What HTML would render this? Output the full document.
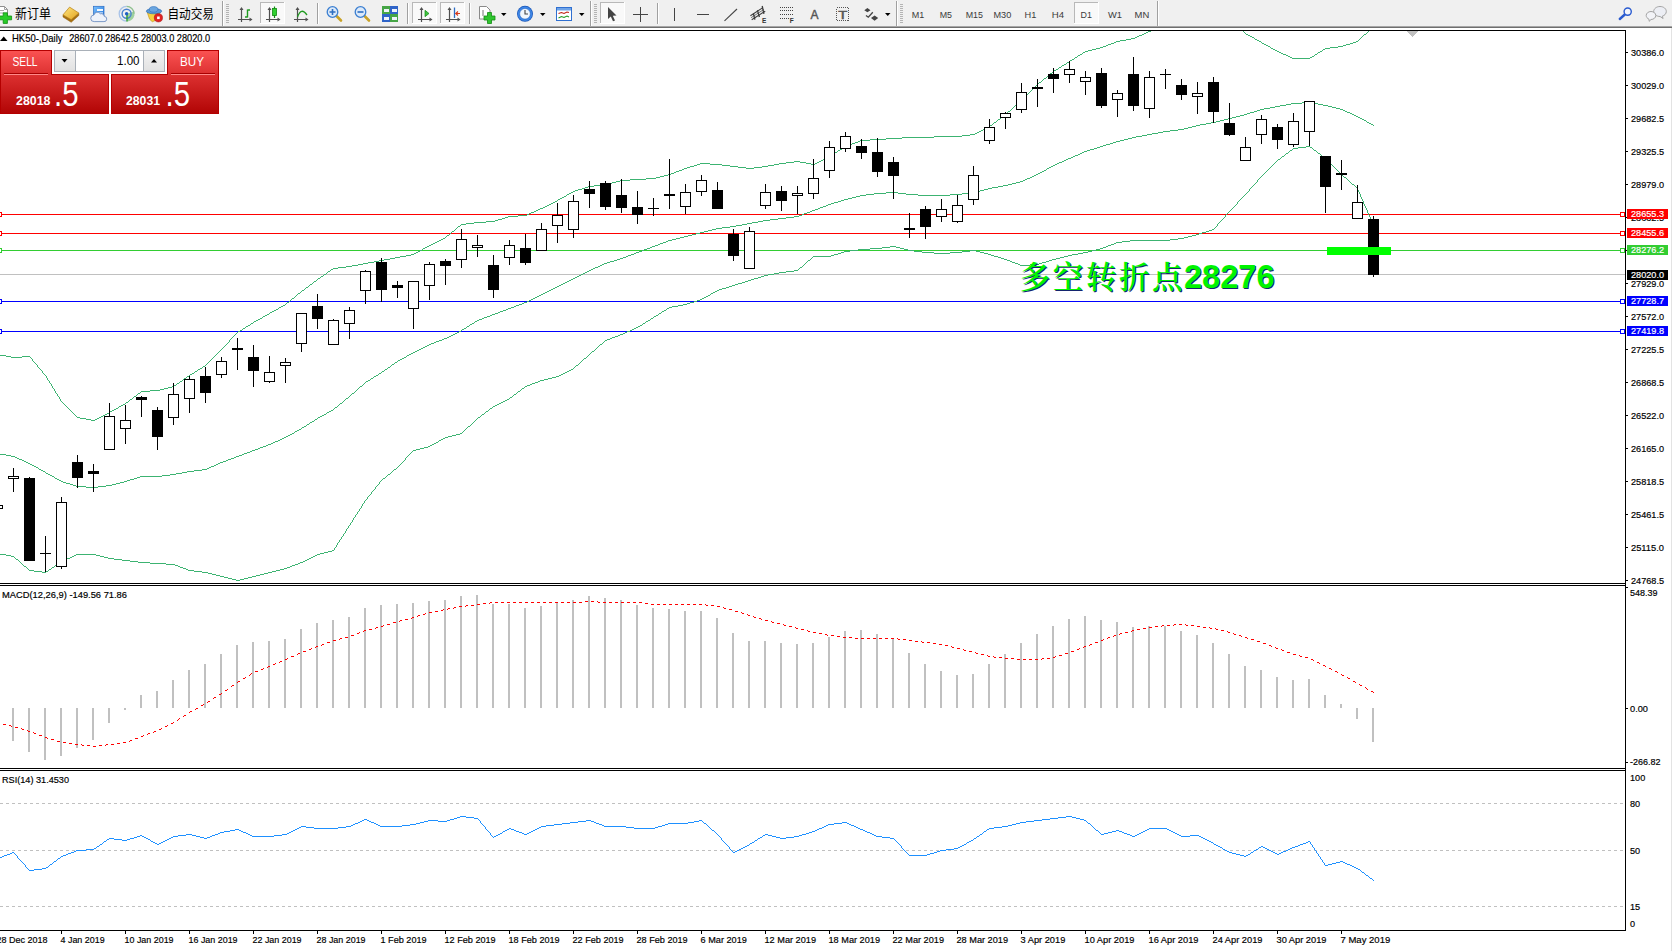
<!DOCTYPE html>
<html lang="zh-CN"><head><meta charset="utf-8"><title>HK50-,Daily</title>
<style>html,body{margin:0;padding:0;background:#fff;overflow:hidden}body{width:1672px;height:951px;font-family:"Liberation Sans","Noto Sans CJK SC",sans-serif}</style>
</head><body>
<svg width="1672" height="951" viewBox="0 0 1672 951" style="display:block">
<defs>
<linearGradient id="gTab" x1="0" y1="0" x2="0" y2="1"><stop offset="0" stop-color="#fa5252"/><stop offset="1" stop-color="#dc3030"/></linearGradient>
<linearGradient id="gBox" x1="0" y1="0" x2="0" y2="1"><stop offset="0" stop-color="#dc3030"/><stop offset="1" stop-color="#b20505"/></linearGradient>
<linearGradient id="gSpin" x1="0" y1="0" x2="0" y2="1"><stop offset="0" stop-color="#f2f2f2"/><stop offset="1" stop-color="#e2e2e2"/></linearGradient>
<clipPath id="cMain"><rect x="0" y="31" width="1625" height="552"/></clipPath>
<clipPath id="cAll"><rect x="0" y="0" width="1672" height="951"/></clipPath>
</defs>
<rect x="0" y="0" width="1672" height="951" fill="#ffffff" />
<g shape-rendering="crispEdges">
<rect x="0" y="214" width="1625" height="1" fill="#ff0000" />
<rect x="0" y="233" width="1625" height="1" fill="#ff0000" />
<rect x="0" y="250" width="1625" height="1" fill="#32cd32" />
<rect x="0" y="274" width="1625" height="1" fill="#c0c0c0" />
<rect x="0" y="301" width="1625" height="1" fill="#0000ff" />
<rect x="0" y="331" width="1625" height="1" fill="#0000ff" />
</g>
<path d="M1148 31h3v1h-3zM1243 31h1v1h-1zM1368 31h1v1h-1zM1146 32h2v1h-2zM1244 32h1v1h-1zM1367 32h1v1h-1zM1144 33h2v1h-2zM1245 33h1v1h-1zM1366 33h1v1h-1zM1142 34h2v1h-2zM1246 34h2v1h-2zM1364 34h2v1h-2zM1139 35h3v1h-3zM1248 35h2v1h-2zM1363 35h1v1h-1zM1137 36h2v1h-2zM1250 36h2v1h-2zM1362 36h1v1h-1zM1135 37h2v1h-2zM1252 37h2v1h-2zM1361 37h1v1h-1zM1131 38h4v1h-4zM1254 38h1v1h-1zM1360 38h1v1h-1zM1126 39h5v1h-5zM1255 39h2v1h-2zM1359 39h1v1h-1zM1120 40h6v1h-6zM1257 40h2v1h-2zM1358 40h1v1h-1zM1116 41h4v1h-4zM1259 41h2v1h-2zM1356 41h2v1h-2zM1114 42h2v1h-2zM1261 42h1v1h-1zM1353 42h3v1h-3zM1111 43h3v1h-3zM1262 43h2v1h-2zM1350 43h3v1h-3zM1108 44h3v1h-3zM1264 44h2v1h-2zM1346 44h4v1h-4zM1106 45h2v1h-2zM1266 45h2v1h-2zM1343 45h3v1h-3zM1103 46h3v1h-3zM1268 46h2v1h-2zM1338 46h5v1h-5zM1100 47h3v1h-3zM1270 47h1v1h-1zM1330 47h8v1h-8zM1096 48h4v1h-4zM1271 48h2v1h-2zM1325 48h5v1h-5zM1092 49h4v1h-4zM1273 49h2v1h-2zM1323 49h2v1h-2zM1088 50h4v1h-4zM1275 50h2v1h-2zM1322 50h1v1h-1zM1085 51h3v1h-3zM1277 51h2v1h-2zM1320 51h2v1h-2zM1083 52h2v1h-2zM1279 52h2v1h-2zM1318 52h2v1h-2zM1082 53h1v1h-1zM1281 53h2v1h-2zM1317 53h1v1h-1zM1080 54h2v1h-2zM1283 54h3v1h-3zM1315 54h2v1h-2zM1078 55h2v1h-2zM1286 55h2v1h-2zM1314 55h1v1h-1zM1077 56h1v1h-1zM1288 56h2v1h-2zM1312 56h2v1h-2zM1075 57h2v1h-2zM1290 57h2v1h-2zM1310 57h2v1h-2zM1074 58h1v1h-1zM1292 58h18v1h-18zM1072 59h2v1h-2zM1070 60h2v1h-2zM1069 61h1v1h-1zM1067 62h2v1h-2zM1066 63h1v1h-1zM1064 64h2v1h-2zM1062 65h2v1h-2zM1061 66h1v1h-1zM1059 67h2v1h-2zM1058 68h1v1h-1zM1056 69h2v1h-2zM1054 70h2v1h-2zM1053 71h1v1h-1zM1052 72h1v1h-1zM1050 73h2v1h-2zM1049 74h1v1h-1zM1048 75h1v1h-1zM1047 76h1v1h-1zM1046 77h1v1h-1zM1044 78h2v1h-2zM1043 79h1v1h-1zM1042 80h1v1h-1zM1041 81h1v1h-1zM1039 82h2v1h-2zM1038 83h1v1h-1zM1037 84h1v1h-1zM1036 85h1v1h-1zM1035 86h1v1h-1zM1034 87h1v1h-1zM1033 88h1v1h-1zM1032 89h1v1h-1zM1031 90h1v1h-1zM1030 91h1v1h-1zM1029 92h1v1h-1zM1028 93h1v1h-1zM1027 94h1v1h-1zM1026 95h1v1h-1zM1025 96h1v1h-1zM1024 97h1v1h-1zM1023 98h1v1h-1zM1022 99h1v1h-1zM1021 100h1v1h-1zM1020 101h1v1h-1zM1019 102h1v1h-1zM1018 103h1v1h-1zM1016 104h2v1h-2zM1015 105h1v1h-1zM1014 106h1v1h-1zM1013 107h1v1h-1zM1012 108h1v1h-1zM1011 109h1v1h-1zM1010 110h1v1h-1zM1008 111h2v1h-2zM1007 112h1v1h-1zM1006 113h1v1h-1zM1005 114h1v1h-1zM1004 115h1v1h-1zM1002 116h2v1h-2zM1001 117h1v1h-1zM1000 118h1v1h-1zM998 119h2v1h-2zM997 120h1v1h-1zM996 121h1v1h-1zM994 122h2v1h-2zM993 123h1v1h-1zM992 124h1v1h-1zM990 125h2v1h-2zM989 126h1v1h-1zM987 127h2v1h-2zM985 128h2v1h-2zM983 129h2v1h-2zM981 130h2v1h-2zM979 131h2v1h-2zM977 132h2v1h-2zM975 133h2v1h-2zM970 134h5v1h-5zM962 135h8v1h-8zM934 136h28v1h-28zM902 137h32v1h-32zM886 138h16v1h-16zM870 139h16v1h-16zM860 140h10v1h-10zM858 141h2v1h-2zM855 142h3v1h-3zM852 143h3v1h-3zM850 144h2v1h-2zM847 145h3v1h-3zM845 146h2v1h-2zM843 147h2v1h-2zM842 148h1v1h-1zM840 149h2v1h-2zM838 150h2v1h-2zM837 151h1v1h-1zM835 152h2v1h-2zM834 153h1v1h-1zM832 154h2v1h-2zM830 155h2v1h-2zM829 156h1v1h-1zM827 157h2v1h-2zM825 158h2v1h-2zM823 159h2v1h-2zM821 160h2v1h-2zM794 161h6v1h-6zM819 161h2v1h-2zM786 162h8v1h-8zM800 162h6v1h-6zM817 162h2v1h-2zM700 163h10v1h-10zM779 163h7v1h-7zM806 163h5v1h-5zM815 163h2v1h-2zM697 164h3v1h-3zM710 164h12v1h-12zM774 164h5v1h-5zM811 164h4v1h-4zM694 165h3v1h-3zM722 165h8v1h-8zM768 165h6v1h-6zM690 166h4v1h-4zM730 166h8v1h-8zM762 166h6v1h-6zM687 167h3v1h-3zM738 167h8v1h-8zM754 167h8v1h-8zM684 168h3v1h-3zM746 168h8v1h-8zM682 169h2v1h-2zM679 170h3v1h-3zM676 171h3v1h-3zM674 172h2v1h-2zM671 173h3v1h-3zM668 174h3v1h-3zM664 175h4v1h-4zM660 176h4v1h-4zM656 177h4v1h-4zM646 178h10v1h-10zM630 179h16v1h-16zM620 180h10v1h-10zM616 181h4v1h-4zM612 182h4v1h-4zM608 183h4v1h-4zM602 184h6v1h-6zM594 185h8v1h-8zM588 186h6v1h-6zM585 187h3v1h-3zM582 188h3v1h-3zM578 189h4v1h-4zM575 190h3v1h-3zM573 191h2v1h-2zM571 192h2v1h-2zM569 193h2v1h-2zM567 194h2v1h-2zM566 195h1v1h-1zM564 196h2v1h-2zM562 197h2v1h-2zM560 198h2v1h-2zM558 199h2v1h-2zM557 200h1v1h-1zM555 201h2v1h-2zM553 202h2v1h-2zM551 203h2v1h-2zM549 204h2v1h-2zM547 205h2v1h-2zM545 206h2v1h-2zM543 207h2v1h-2zM540 208h3v1h-3zM538 209h2v1h-2zM536 210h2v1h-2zM534 211h2v1h-2zM531 212h3v1h-3zM529 213h2v1h-2zM527 214h2v1h-2zM518 215h9v1h-9zM508 216h10v1h-10zM505 217h3v1h-3zM502 218h3v1h-3zM498 219h4v1h-4zM495 220h3v1h-3zM486 221h9v1h-9zM474 222h12v1h-12zM466 223h8v1h-8zM461 224h5v1h-5zM460 225h1v1h-1zM458 226h2v1h-2zM457 227h1v1h-1zM456 228h1v1h-1zM455 229h1v1h-1zM454 230h1v1h-1zM452 231h2v1h-2zM451 232h1v1h-1zM450 233h1v1h-1zM449 234h1v1h-1zM447 235h2v1h-2zM446 236h1v1h-1zM445 237h1v1h-1zM443 238h2v1h-2zM441 239h2v1h-2zM439 240h2v1h-2zM437 241h2v1h-2zM435 242h2v1h-2zM433 243h2v1h-2zM431 244h2v1h-2zM429 245h2v1h-2zM427 246h2v1h-2zM425 247h2v1h-2zM423 248h2v1h-2zM422 249h1v1h-1zM420 250h2v1h-2zM418 251h2v1h-2zM416 252h2v1h-2zM414 253h2v1h-2zM411 254h3v1h-3zM406 255h5v1h-5zM400 256h6v1h-6zM395 257h5v1h-5zM390 258h5v1h-5zM384 259h6v1h-6zM379 260h5v1h-5zM374 261h5v1h-5zM368 262h6v1h-6zM363 263h5v1h-5zM358 264h5v1h-5zM352 265h6v1h-6zM346 266h6v1h-6zM338 267h8v1h-8zM333 268h5v1h-5zM331 269h2v1h-2zM330 270h1v1h-1zM328 271h2v1h-2zM327 272h1v1h-1zM326 273h1v1h-1zM324 274h2v1h-2zM323 275h1v1h-1zM321 276h2v1h-2zM320 277h1v1h-1zM318 278h2v1h-2zM317 279h1v1h-1zM316 280h1v1h-1zM314 281h2v1h-2zM313 282h1v1h-1zM312 283h1v1h-1zM310 284h2v1h-2zM309 285h1v1h-1zM308 286h1v1h-1zM306 287h2v1h-2zM305 288h1v1h-1zM304 289h1v1h-1zM302 290h2v1h-2zM301 291h1v1h-1zM300 292h1v1h-1zM298 293h2v1h-2zM297 294h1v1h-1zM296 295h1v1h-1zM295 296h1v1h-1zM294 297h1v1h-1zM292 298h2v1h-2zM291 299h1v1h-1zM290 300h1v1h-1zM289 301h1v1h-1zM287 302h2v1h-2zM286 303h1v1h-1zM285 304h1v1h-1zM283 305h2v1h-2zM281 306h2v1h-2zM279 307h2v1h-2zM278 308h1v1h-1zM276 309h2v1h-2zM274 310h2v1h-2zM272 311h2v1h-2zM270 312h2v1h-2zM269 313h1v1h-1zM267 314h2v1h-2zM265 315h2v1h-2zM263 316h2v1h-2zM262 317h1v1h-1zM260 318h2v1h-2zM258 319h2v1h-2zM256 320h2v1h-2zM254 321h2v1h-2zM253 322h1v1h-1zM251 323h2v1h-2zM250 324h1v1h-1zM248 325h2v1h-2zM246 326h2v1h-2zM245 327h1v1h-1zM243 328h2v1h-2zM242 329h1v1h-1zM240 330h2v1h-2zM238 331h2v1h-2zM237 332h1v1h-1zM236 333h1v1h-1zM235 334h1v1h-1zM234 335h1v1h-1zM233 336h1v1h-1zM232 337h1v1h-1zM231 338h1v1h-1zM230 339h1v1h-1zM229 340h1v1h-1zM229 341h1v1h-1zM228 342h1v1h-1zM227 343h1v1h-1zM226 344h1v1h-1zM225 345h1v1h-1zM224 346h1v1h-1zM223 347h1v1h-1zM222 348h1v1h-1zM221 349h1v1h-1zM220 350h1v1h-1zM219 351h1v1h-1zM218 352h1v1h-1zM217 353h1v1h-1zM216 354h1v1h-1zM0 355h6v1h-6zM215 355h1v1h-1zM6 356h5v1h-5zM22 356h8v1h-8zM214 356h1v1h-1zM11 357h11v1h-11zM30 357h1v1h-1zM213 357h1v1h-1zM31 358h1v1h-1zM212 358h1v1h-1zM32 359h1v1h-1zM211 359h1v1h-1zM32 360h1v1h-1zM210 360h1v1h-1zM33 361h1v1h-1zM209 361h1v1h-1zM34 362h1v1h-1zM208 362h1v1h-1zM35 363h1v1h-1zM207 363h1v1h-1zM36 364h1v1h-1zM206 364h1v1h-1zM37 365h1v1h-1zM205 365h1v1h-1zM37 366h1v1h-1zM203 366h2v1h-2zM38 367h1v1h-1zM202 367h1v1h-1zM39 368h1v1h-1zM200 368h2v1h-2zM40 369h1v1h-1zM198 369h2v1h-2zM41 370h1v1h-1zM197 370h1v1h-1zM42 371h1v1h-1zM195 371h2v1h-2zM42 372h1v1h-1zM194 372h1v1h-1zM43 373h1v1h-1zM192 373h2v1h-2zM44 374h1v1h-1zM190 374h2v1h-2zM45 375h1v1h-1zM189 375h1v1h-1zM46 376h1v1h-1zM187 376h2v1h-2zM46 377h1v1h-1zM186 377h1v1h-1zM47 378h1v1h-1zM184 378h2v1h-2zM47 379h1v1h-1zM183 379h1v1h-1zM48 380h1v1h-1zM182 380h1v1h-1zM49 381h1v1h-1zM180 381h2v1h-2zM49 382h1v1h-1zM179 382h1v1h-1zM50 383h1v1h-1zM177 383h2v1h-2zM51 384h1v1h-1zM176 384h1v1h-1zM51 385h1v1h-1zM174 385h2v1h-2zM52 386h1v1h-1zM172 386h2v1h-2zM52 387h1v1h-1zM168 387h4v1h-4zM53 388h1v1h-1zM164 388h4v1h-4zM54 389h1v1h-1zM160 389h4v1h-4zM54 390h1v1h-1zM150 390h10v1h-10zM55 391h1v1h-1zM141 391h9v1h-9zM55 392h1v1h-1zM140 392h1v1h-1zM56 393h1v1h-1zM138 393h2v1h-2zM57 394h1v1h-1zM137 394h1v1h-1zM57 395h1v1h-1zM136 395h1v1h-1zM58 396h1v1h-1zM134 396h2v1h-2zM59 397h1v1h-1zM133 397h1v1h-1zM59 398h1v1h-1zM132 398h1v1h-1zM60 399h1v1h-1zM130 399h2v1h-2zM60 400h1v1h-1zM129 400h1v1h-1zM61 401h1v1h-1zM128 401h1v1h-1zM62 402h1v1h-1zM126 402h2v1h-2zM63 403h1v1h-1zM125 403h1v1h-1zM64 404h1v1h-1zM123 404h2v1h-2zM65 405h1v1h-1zM121 405h2v1h-2zM66 406h1v1h-1zM119 406h2v1h-2zM67 407h1v1h-1zM118 407h1v1h-1zM68 408h1v1h-1zM116 408h2v1h-2zM69 409h1v1h-1zM114 409h2v1h-2zM70 410h1v1h-1zM112 410h2v1h-2zM71 411h1v1h-1zM110 411h2v1h-2zM72 412h1v1h-1zM109 412h1v1h-1zM73 413h1v1h-1zM107 413h2v1h-2zM74 414h1v1h-1zM105 414h2v1h-2zM75 415h1v1h-1zM103 415h2v1h-2zM76 416h1v1h-1zM101 416h2v1h-2zM77 417h3v1h-3zM99 417h2v1h-2zM80 418h6v1h-6zM97 418h2v1h-2zM86 419h5v1h-5zM95 419h2v1h-2zM91 420h4v1h-4z" fill="#3cb371" shape-rendering="crispEdges"/>
<path d="M1302 102h10v1h-10zM1291 103h11v1h-11zM1312 103h6v1h-6zM1286 104h5v1h-5zM1318 104h5v1h-5zM1280 105h6v1h-6zM1323 105h5v1h-5zM1275 106h5v1h-5zM1328 106h4v1h-4zM1270 107h5v1h-5zM1332 107h4v1h-4zM1264 108h6v1h-6zM1336 108h4v1h-4zM1260 109h4v1h-4zM1340 109h3v1h-3zM1257 110h3v1h-3zM1343 110h2v1h-2zM1254 111h3v1h-3zM1345 111h2v1h-2zM1250 112h4v1h-4zM1347 112h3v1h-3zM1247 113h3v1h-3zM1350 113h2v1h-2zM1244 114h3v1h-3zM1352 114h2v1h-2zM1240 115h4v1h-4zM1354 115h2v1h-2zM1236 116h4v1h-4zM1356 116h2v1h-2zM1232 117h4v1h-4zM1358 117h2v1h-2zM1228 118h4v1h-4zM1360 118h2v1h-2zM1224 119h4v1h-4zM1362 119h2v1h-2zM1220 120h4v1h-4zM1364 120h2v1h-2zM1216 121h4v1h-4zM1366 121h1v1h-1zM1211 122h5v1h-5zM1367 122h2v1h-2zM1206 123h5v1h-5zM1369 123h2v1h-2zM1200 124h6v1h-6zM1371 124h2v1h-2zM1196 125h4v1h-4zM1373 125h1v1h-1zM1192 126h4v1h-4zM1188 127h4v1h-4zM1184 128h4v1h-4zM1178 129h6v1h-6zM1170 130h8v1h-8zM1163 131h7v1h-7zM1158 132h5v1h-5zM1152 133h6v1h-6zM1147 134h5v1h-5zM1142 135h5v1h-5zM1136 136h6v1h-6zM1132 137h4v1h-4zM1128 138h4v1h-4zM1124 139h4v1h-4zM1120 140h4v1h-4zM1116 141h4v1h-4zM1113 142h3v1h-3zM1110 143h3v1h-3zM1106 144h4v1h-4zM1103 145h3v1h-3zM1100 146h3v1h-3zM1097 147h3v1h-3zM1094 148h3v1h-3zM1090 149h4v1h-4zM1087 150h3v1h-3zM1084 151h3v1h-3zM1082 152h2v1h-2zM1080 153h2v1h-2zM1078 154h2v1h-2zM1075 155h3v1h-3zM1073 156h2v1h-2zM1071 157h2v1h-2zM1068 158h3v1h-3zM1066 159h2v1h-2zM1064 160h2v1h-2zM1062 161h2v1h-2zM1059 162h3v1h-3zM1057 163h2v1h-2zM1055 164h2v1h-2zM1053 165h2v1h-2zM1051 166h2v1h-2zM1049 167h2v1h-2zM1047 168h2v1h-2zM1046 169h1v1h-1zM1044 170h2v1h-2zM1042 171h2v1h-2zM1040 172h2v1h-2zM1038 173h2v1h-2zM1036 174h2v1h-2zM1034 175h2v1h-2zM1032 176h2v1h-2zM1030 177h2v1h-2zM1027 178h3v1h-3zM1025 179h2v1h-2zM1023 180h2v1h-2zM1020 181h3v1h-3zM1016 182h4v1h-4zM1012 183h4v1h-4zM1008 184h4v1h-4zM1003 185h5v1h-5zM998 186h5v1h-5zM992 187h6v1h-6zM988 188h4v1h-4zM984 189h4v1h-4zM980 190h4v1h-4zM976 191h4v1h-4zM886 192h12v1h-12zM970 192h6v1h-6zM874 193h12v1h-12zM898 193h8v1h-8zM962 193h8v1h-8zM866 194h8v1h-8zM906 194h12v1h-12zM950 194h12v1h-12zM860 195h6v1h-6zM918 195h32v1h-32zM856 196h4v1h-4zM852 197h4v1h-4zM848 198h4v1h-4zM844 199h4v1h-4zM841 200h3v1h-3zM838 201h3v1h-3zM834 202h4v1h-4zM831 203h3v1h-3zM828 204h3v1h-3zM826 205h2v1h-2zM823 206h3v1h-3zM820 207h3v1h-3zM818 208h2v1h-2zM815 209h3v1h-3zM812 210h3v1h-3zM810 211h2v1h-2zM807 212h3v1h-3zM804 213h3v1h-3zM802 214h2v1h-2zM799 215h3v1h-3zM794 216h5v1h-5zM786 217h8v1h-8zM778 218h8v1h-8zM770 219h8v1h-8zM763 220h7v1h-7zM758 221h5v1h-5zM752 222h6v1h-6zM747 223h5v1h-5zM742 224h5v1h-5zM736 225h6v1h-6zM730 226h6v1h-6zM722 227h8v1h-8zM716 228h6v1h-6zM712 229h4v1h-4zM708 230h4v1h-4zM704 231h4v1h-4zM700 232h4v1h-4zM696 233h4v1h-4zM692 234h4v1h-4zM688 235h4v1h-4zM684 236h4v1h-4zM680 237h4v1h-4zM676 238h4v1h-4zM672 239h4v1h-4zM668 240h4v1h-4zM666 241h2v1h-2zM663 242h3v1h-3zM660 243h3v1h-3zM658 244h2v1h-2zM655 245h3v1h-3zM652 246h3v1h-3zM650 247h2v1h-2zM647 248h3v1h-3zM644 249h3v1h-3zM642 250h2v1h-2zM639 251h3v1h-3zM636 252h3v1h-3zM634 253h2v1h-2zM631 254h3v1h-3zM628 255h3v1h-3zM626 256h2v1h-2zM623 257h3v1h-3zM620 258h3v1h-3zM617 259h3v1h-3zM614 260h3v1h-3zM610 261h4v1h-4zM607 262h3v1h-3zM604 263h3v1h-3zM602 264h2v1h-2zM600 265h2v1h-2zM598 266h2v1h-2zM595 267h3v1h-3zM593 268h2v1h-2zM591 269h2v1h-2zM589 270h2v1h-2zM587 271h2v1h-2zM585 272h2v1h-2zM583 273h2v1h-2zM581 274h2v1h-2zM579 275h2v1h-2zM577 276h2v1h-2zM575 277h2v1h-2zM573 278h2v1h-2zM571 279h2v1h-2zM569 280h2v1h-2zM567 281h2v1h-2zM565 282h2v1h-2zM563 283h2v1h-2zM561 284h2v1h-2zM559 285h2v1h-2zM557 286h2v1h-2zM555 287h2v1h-2zM553 288h2v1h-2zM551 289h2v1h-2zM549 290h2v1h-2zM547 291h2v1h-2zM545 292h2v1h-2zM543 293h2v1h-2zM541 294h2v1h-2zM539 295h2v1h-2zM537 296h2v1h-2zM535 297h2v1h-2zM533 298h2v1h-2zM531 299h2v1h-2zM529 300h2v1h-2zM527 301h2v1h-2zM524 302h3v1h-3zM522 303h2v1h-2zM519 304h3v1h-3zM516 305h3v1h-3zM514 306h2v1h-2zM511 307h3v1h-3zM508 308h3v1h-3zM506 309h2v1h-2zM503 310h3v1h-3zM500 311h3v1h-3zM498 312h2v1h-2zM495 313h3v1h-3zM492 314h3v1h-3zM490 315h2v1h-2zM487 316h3v1h-3zM484 317h3v1h-3zM482 318h2v1h-2zM479 319h3v1h-3zM477 320h2v1h-2zM475 321h2v1h-2zM474 322h1v1h-1zM472 323h2v1h-2zM470 324h2v1h-2zM469 325h1v1h-1zM467 326h2v1h-2zM466 327h1v1h-1zM464 328h2v1h-2zM462 329h2v1h-2zM461 330h1v1h-1zM459 331h2v1h-2zM457 332h2v1h-2zM455 333h2v1h-2zM453 334h2v1h-2zM451 335h2v1h-2zM449 336h2v1h-2zM447 337h2v1h-2zM444 338h3v1h-3zM442 339h2v1h-2zM439 340h3v1h-3zM436 341h3v1h-3zM434 342h2v1h-2zM431 343h3v1h-3zM429 344h2v1h-2zM427 345h2v1h-2zM425 346h2v1h-2zM423 347h2v1h-2zM421 348h2v1h-2zM419 349h2v1h-2zM417 350h2v1h-2zM415 351h2v1h-2zM413 352h2v1h-2zM411 353h2v1h-2zM409 354h2v1h-2zM407 355h2v1h-2zM406 356h1v1h-1zM404 357h2v1h-2zM402 358h2v1h-2zM400 359h2v1h-2zM398 360h2v1h-2zM397 361h1v1h-1zM395 362h2v1h-2zM394 363h1v1h-1zM392 364h2v1h-2zM391 365h1v1h-1zM390 366h1v1h-1zM388 367h2v1h-2zM387 368h1v1h-1zM385 369h2v1h-2zM384 370h1v1h-1zM382 371h2v1h-2zM381 372h1v1h-1zM379 373h2v1h-2zM378 374h1v1h-1zM376 375h2v1h-2zM374 376h2v1h-2zM373 377h1v1h-1zM371 378h2v1h-2zM370 379h1v1h-1zM368 380h2v1h-2zM366 381h2v1h-2zM365 382h1v1h-1zM364 383h1v1h-1zM363 384h1v1h-1zM362 385h1v1h-1zM360 386h2v1h-2zM359 387h1v1h-1zM358 388h1v1h-1zM357 389h1v1h-1zM356 390h1v1h-1zM355 391h1v1h-1zM354 392h1v1h-1zM352 393h2v1h-2zM351 394h1v1h-1zM350 395h1v1h-1zM349 396h1v1h-1zM348 397h1v1h-1zM346 398h2v1h-2zM345 399h1v1h-1zM344 400h1v1h-1zM343 401h1v1h-1zM342 402h1v1h-1zM340 403h2v1h-2zM339 404h1v1h-1zM338 405h1v1h-1zM337 406h1v1h-1zM335 407h2v1h-2zM334 408h1v1h-1zM333 409h1v1h-1zM331 410h2v1h-2zM329 411h2v1h-2zM327 412h2v1h-2zM326 413h1v1h-1zM324 414h2v1h-2zM322 415h2v1h-2zM320 416h2v1h-2zM318 417h2v1h-2zM317 418h1v1h-1zM315 419h2v1h-2zM314 420h1v1h-1zM312 421h2v1h-2zM310 422h2v1h-2zM309 423h1v1h-1zM307 424h2v1h-2zM306 425h1v1h-1zM304 426h2v1h-2zM302 427h2v1h-2zM301 428h1v1h-1zM299 429h2v1h-2zM297 430h2v1h-2zM295 431h2v1h-2zM294 432h1v1h-1zM292 433h2v1h-2zM290 434h2v1h-2zM288 435h2v1h-2zM286 436h2v1h-2zM284 437h2v1h-2zM282 438h2v1h-2zM280 439h2v1h-2zM278 440h2v1h-2zM275 441h3v1h-3zM273 442h2v1h-2zM271 443h2v1h-2zM268 444h3v1h-3zM266 445h2v1h-2zM263 446h3v1h-3zM260 447h3v1h-3zM258 448h2v1h-2zM255 449h3v1h-3zM252 450h3v1h-3zM250 451h2v1h-2zM247 452h3v1h-3zM244 453h3v1h-3zM0 454h6v1h-6zM242 454h2v1h-2zM6 455h5v1h-5zM239 455h3v1h-3zM11 456h4v1h-4zM236 456h3v1h-3zM15 457h2v1h-2zM234 457h2v1h-2zM17 458h2v1h-2zM231 458h3v1h-3zM19 459h3v1h-3zM228 459h3v1h-3zM22 460h2v1h-2zM226 460h2v1h-2zM24 461h2v1h-2zM223 461h3v1h-3zM26 462h2v1h-2zM220 462h3v1h-3zM28 463h2v1h-2zM218 463h2v1h-2zM30 464h2v1h-2zM216 464h2v1h-2zM32 465h2v1h-2zM214 465h2v1h-2zM34 466h2v1h-2zM211 466h3v1h-3zM36 467h2v1h-2zM209 467h2v1h-2zM38 468h1v1h-1zM207 468h2v1h-2zM39 469h2v1h-2zM202 469h5v1h-5zM41 470h2v1h-2zM194 470h8v1h-8zM43 471h2v1h-2zM187 471h7v1h-7zM45 472h1v1h-1zM182 472h5v1h-5zM46 473h2v1h-2zM176 473h6v1h-6zM48 474h2v1h-2zM170 474h6v1h-6zM50 475h2v1h-2zM162 475h8v1h-8zM52 476h2v1h-2zM140 476h22v1h-22zM54 477h1v1h-1zM137 477h3v1h-3zM55 478h2v1h-2zM134 478h3v1h-3zM57 479h2v1h-2zM130 479h4v1h-4zM59 480h2v1h-2zM127 480h3v1h-3zM61 481h2v1h-2zM124 481h3v1h-3zM63 482h3v1h-3zM120 482h4v1h-4zM66 483h4v1h-4zM116 483h4v1h-4zM70 484h3v1h-3zM112 484h4v1h-4zM73 485h3v1h-3zM106 485h6v1h-6zM76 486h10v1h-10zM98 486h8v1h-8zM86 487h12v1h-12z" fill="#3cb371" shape-rendering="crispEdges"/>
<path d="M1306 146h4v1h-4zM1298 147h8v1h-8zM1310 147h2v1h-2zM1293 148h5v1h-5zM1312 148h1v1h-1zM1292 149h1v1h-1zM1313 149h1v1h-1zM1290 150h2v1h-2zM1314 150h2v1h-2zM1289 151h1v1h-1zM1316 151h1v1h-1zM1288 152h1v1h-1zM1317 152h1v1h-1zM1286 153h2v1h-2zM1318 153h2v1h-2zM1285 154h1v1h-1zM1320 154h1v1h-1zM1284 155h1v1h-1zM1321 155h1v1h-1zM1282 156h2v1h-2zM1322 156h2v1h-2zM1281 157h1v1h-1zM1324 157h1v1h-1zM1280 158h1v1h-1zM1325 158h1v1h-1zM1278 159h2v1h-2zM1326 159h1v1h-1zM1277 160h1v1h-1zM1327 160h1v1h-1zM1276 161h1v1h-1zM1328 161h1v1h-1zM1275 162h1v1h-1zM1329 162h1v1h-1zM1274 163h1v1h-1zM1330 163h1v1h-1zM1273 164h1v1h-1zM1331 164h1v1h-1zM1272 165h1v1h-1zM1332 165h1v1h-1zM1271 166h1v1h-1zM1333 166h1v1h-1zM1270 167h1v1h-1zM1334 167h1v1h-1zM1269 168h1v1h-1zM1335 168h1v1h-1zM1268 169h1v1h-1zM1336 169h1v1h-1zM1267 170h1v1h-1zM1337 170h1v1h-1zM1266 171h1v1h-1zM1338 171h1v1h-1zM1265 172h1v1h-1zM1339 172h1v1h-1zM1264 173h1v1h-1zM1340 173h1v1h-1zM1263 174h1v1h-1zM1341 174h1v1h-1zM1262 175h1v1h-1zM1342 175h1v1h-1zM1261 176h1v1h-1zM1343 176h1v1h-1zM1260 177h1v1h-1zM1344 177h2v1h-2zM1259 178h1v1h-1zM1346 178h1v1h-1zM1258 179h1v1h-1zM1347 179h1v1h-1zM1257 180h1v1h-1zM1348 180h1v1h-1zM1257 181h1v1h-1zM1349 181h1v1h-1zM1256 182h1v1h-1zM1350 182h1v1h-1zM1255 183h1v1h-1zM1351 183h1v1h-1zM1254 184h1v1h-1zM1352 184h2v1h-2zM1253 185h1v1h-1zM1354 185h1v1h-1zM1252 186h1v1h-1zM1355 186h1v1h-1zM1251 187h1v1h-1zM1356 187h1v1h-1zM1250 188h1v1h-1zM1357 188h1v1h-1zM1249 189h1v1h-1zM1357 189h1v1h-1zM1249 190h1v1h-1zM1358 190h1v1h-1zM1248 191h1v1h-1zM1358 191h1v1h-1zM1247 192h1v1h-1zM1359 192h1v1h-1zM1246 193h1v1h-1zM1359 193h1v1h-1zM1245 194h1v1h-1zM1360 194h1v1h-1zM1244 195h1v1h-1zM1360 195h1v1h-1zM1243 196h1v1h-1zM1360 196h1v1h-1zM1242 197h1v1h-1zM1361 197h1v1h-1zM1241 198h1v1h-1zM1361 198h1v1h-1zM1240 199h1v1h-1zM1362 199h1v1h-1zM1239 200h1v1h-1zM1362 200h1v1h-1zM1238 201h1v1h-1zM1363 201h1v1h-1zM1237 202h1v1h-1zM1363 202h1v1h-1zM1237 203h1v1h-1zM1363 203h1v1h-1zM1236 204h1v1h-1zM1364 204h1v1h-1zM1235 205h1v1h-1zM1364 205h1v1h-1zM1234 206h1v1h-1zM1365 206h1v1h-1zM1233 207h1v1h-1zM1365 207h1v1h-1zM1232 208h1v1h-1zM1366 208h1v1h-1zM1231 209h1v1h-1zM1366 209h1v1h-1zM1230 210h1v1h-1zM1367 210h1v1h-1zM1229 211h1v1h-1zM1367 211h1v1h-1zM1228 212h1v1h-1zM1367 212h1v1h-1zM1227 213h1v1h-1zM1368 213h1v1h-1zM1226 214h1v1h-1zM1368 214h1v1h-1zM1225 215h1v1h-1zM1369 215h1v1h-1zM1225 216h1v1h-1zM1369 216h1v1h-1zM1224 217h1v1h-1zM1370 217h1v1h-1zM1223 218h1v1h-1zM1370 218h1v1h-1zM1222 219h1v1h-1zM1370 219h1v1h-1zM1221 220h1v1h-1zM1371 220h1v1h-1zM1220 221h1v1h-1zM1371 221h1v1h-1zM1219 222h1v1h-1zM1372 222h1v1h-1zM1218 223h1v1h-1zM1372 223h1v1h-1zM1217 224h1v1h-1zM1373 224h1v1h-1zM1217 225h1v1h-1zM1373 225h1v1h-1zM1216 226h1v1h-1zM1215 227h1v1h-1zM1214 228h1v1h-1zM1212 229h2v1h-2zM1209 230h3v1h-3zM1206 231h3v1h-3zM1202 232h4v1h-4zM1199 233h3v1h-3zM1196 234h3v1h-3zM1192 235h4v1h-4zM1188 236h4v1h-4zM1184 237h4v1h-4zM1178 238h6v1h-6zM1170 239h8v1h-8zM1130 240h40v1h-40zM1122 241h8v1h-8zM1116 242h6v1h-6zM1114 243h2v1h-2zM1111 244h3v1h-3zM1108 245h3v1h-3zM890 246h6v1h-6zM1106 246h2v1h-2zM882 247h8v1h-8zM896 247h4v1h-4zM1103 247h3v1h-3zM870 248h12v1h-12zM900 248h4v1h-4zM1100 248h3v1h-3zM858 249h12v1h-12zM904 249h4v1h-4zM1096 249h4v1h-4zM850 250h8v1h-8zM908 250h6v1h-6zM970 250h6v1h-6zM1092 250h4v1h-4zM844 251h6v1h-6zM914 251h8v1h-8zM962 251h8v1h-8zM976 251h4v1h-4zM1088 251h4v1h-4zM841 252h3v1h-3zM922 252h12v1h-12zM950 252h12v1h-12zM980 252h4v1h-4zM1083 252h5v1h-5zM838 253h3v1h-3zM934 253h16v1h-16zM984 253h4v1h-4zM1078 253h5v1h-5zM834 254h4v1h-4zM988 254h3v1h-3zM1072 254h6v1h-6zM831 255h3v1h-3zM991 255h3v1h-3zM1068 255h4v1h-4zM813 256h18v1h-18zM994 256h4v1h-4zM1064 256h4v1h-4zM812 257h1v1h-1zM998 257h3v1h-3zM1060 257h4v1h-4zM811 258h1v1h-1zM1001 258h3v1h-3zM1056 258h4v1h-4zM810 259h1v1h-1zM1004 259h3v1h-3zM1052 259h4v1h-4zM808 260h2v1h-2zM1007 260h3v1h-3zM1049 260h3v1h-3zM807 261h1v1h-1zM1010 261h2v1h-2zM1046 261h3v1h-3zM806 262h1v1h-1zM1012 262h3v1h-3zM1042 262h4v1h-4zM805 263h1v1h-1zM1015 263h3v1h-3zM1039 263h3v1h-3zM804 264h1v1h-1zM1018 264h2v1h-2zM1030 264h9v1h-9zM803 265h1v1h-1zM1020 265h10v1h-10zM802 266h1v1h-1zM800 267h2v1h-2zM799 268h1v1h-1zM798 269h1v1h-1zM794 270h4v1h-4zM786 271h8v1h-8zM779 272h7v1h-7zM774 273h5v1h-5zM768 274h6v1h-6zM764 275h4v1h-4zM761 276h3v1h-3zM758 277h3v1h-3zM754 278h4v1h-4zM751 279h3v1h-3zM748 280h3v1h-3zM745 281h3v1h-3zM742 282h3v1h-3zM738 283h4v1h-4zM735 284h3v1h-3zM732 285h3v1h-3zM729 286h3v1h-3zM726 287h3v1h-3zM722 288h4v1h-4zM719 289h3v1h-3zM717 290h2v1h-2zM715 291h2v1h-2zM713 292h2v1h-2zM711 293h2v1h-2zM710 294h1v1h-1zM708 295h2v1h-2zM706 296h2v1h-2zM704 297h2v1h-2zM702 298h2v1h-2zM700 299h2v1h-2zM697 300h3v1h-3zM694 301h3v1h-3zM690 302h4v1h-4zM687 303h3v1h-3zM683 304h4v1h-4zM678 305h5v1h-5zM672 306h6v1h-6zM669 307h3v1h-3zM667 308h2v1h-2zM666 309h1v1h-1zM664 310h2v1h-2zM662 311h2v1h-2zM661 312h1v1h-1zM659 313h2v1h-2zM658 314h1v1h-1zM656 315h2v1h-2zM654 316h2v1h-2zM653 317h1v1h-1zM651 318h2v1h-2zM650 319h1v1h-1zM648 320h2v1h-2zM646 321h2v1h-2zM645 322h1v1h-1zM643 323h2v1h-2zM642 324h1v1h-1zM640 325h2v1h-2zM638 326h2v1h-2zM636 327h2v1h-2zM634 328h2v1h-2zM632 329h2v1h-2zM630 330h2v1h-2zM627 331h3v1h-3zM625 332h2v1h-2zM623 333h2v1h-2zM620 334h3v1h-3zM618 335h2v1h-2zM615 336h3v1h-3zM612 337h3v1h-3zM610 338h2v1h-2zM607 339h3v1h-3zM605 340h2v1h-2zM604 341h1v1h-1zM603 342h1v1h-1zM602 343h1v1h-1zM600 344h2v1h-2zM599 345h1v1h-1zM598 346h1v1h-1zM597 347h1v1h-1zM596 348h1v1h-1zM595 349h1v1h-1zM594 350h1v1h-1zM592 351h2v1h-2zM591 352h1v1h-1zM590 353h1v1h-1zM589 354h1v1h-1zM588 355h1v1h-1zM587 356h1v1h-1zM586 357h1v1h-1zM584 358h2v1h-2zM583 359h1v1h-1zM582 360h1v1h-1zM581 361h1v1h-1zM580 362h1v1h-1zM579 363h1v1h-1zM578 364h1v1h-1zM576 365h2v1h-2zM575 366h1v1h-1zM574 367h1v1h-1zM573 368h1v1h-1zM571 369h2v1h-2zM569 370h2v1h-2zM567 371h2v1h-2zM565 372h2v1h-2zM563 373h2v1h-2zM561 374h2v1h-2zM559 375h2v1h-2zM556 376h3v1h-3zM552 377h4v1h-4zM548 378h4v1h-4zM544 379h4v1h-4zM540 380h4v1h-4zM538 381h2v1h-2zM535 382h3v1h-3zM532 383h3v1h-3zM530 384h2v1h-2zM527 385h3v1h-3zM525 386h2v1h-2zM524 387h1v1h-1zM522 388h2v1h-2zM521 389h1v1h-1zM520 390h1v1h-1zM518 391h2v1h-2zM517 392h1v1h-1zM516 393h1v1h-1zM514 394h2v1h-2zM513 395h1v1h-1zM512 396h1v1h-1zM510 397h2v1h-2zM509 398h1v1h-1zM507 399h2v1h-2zM505 400h2v1h-2zM503 401h2v1h-2zM501 402h2v1h-2zM499 403h2v1h-2zM497 404h2v1h-2zM495 405h2v1h-2zM493 406h2v1h-2zM492 407h1v1h-1zM490 408h2v1h-2zM489 409h1v1h-1zM488 410h1v1h-1zM486 411h2v1h-2zM485 412h1v1h-1zM484 413h1v1h-1zM482 414h2v1h-2zM481 415h1v1h-1zM480 416h1v1h-1zM478 417h2v1h-2zM477 418h1v1h-1zM476 419h1v1h-1zM475 420h1v1h-1zM474 421h1v1h-1zM473 422h1v1h-1zM472 423h1v1h-1zM471 424h1v1h-1zM470 425h1v1h-1zM468 426h2v1h-2zM467 427h1v1h-1zM466 428h1v1h-1zM465 429h1v1h-1zM464 430h1v1h-1zM463 431h1v1h-1zM462 432h1v1h-1zM460 433h2v1h-2zM456 434h4v1h-4zM452 435h4v1h-4zM448 436h4v1h-4zM445 437h3v1h-3zM443 438h2v1h-2zM441 439h2v1h-2zM439 440h2v1h-2zM438 441h1v1h-1zM436 442h2v1h-2zM434 443h2v1h-2zM432 444h2v1h-2zM430 445h2v1h-2zM428 446h2v1h-2zM424 447h4v1h-4zM420 448h4v1h-4zM416 449h4v1h-4zM413 450h3v1h-3zM412 451h1v1h-1zM411 452h1v1h-1zM410 453h1v1h-1zM409 454h1v1h-1zM408 455h1v1h-1zM407 456h1v1h-1zM406 457h1v1h-1zM405 458h1v1h-1zM405 459h1v1h-1zM404 460h1v1h-1zM403 461h1v1h-1zM402 462h1v1h-1zM401 463h1v1h-1zM400 464h1v1h-1zM399 465h1v1h-1zM398 466h1v1h-1zM397 467h1v1h-1zM396 468h1v1h-1zM394 469h2v1h-2zM393 470h1v1h-1zM392 471h1v1h-1zM391 472h1v1h-1zM390 473h1v1h-1zM388 474h2v1h-2zM387 475h1v1h-1zM386 476h1v1h-1zM385 477h1v1h-1zM383 478h2v1h-2zM382 479h1v1h-1zM381 480h1v1h-1zM380 481h1v1h-1zM379 482h1v1h-1zM379 483h1v1h-1zM378 484h1v1h-1zM377 485h1v1h-1zM376 486h1v1h-1zM375 487h1v1h-1zM375 488h1v1h-1zM374 489h1v1h-1zM373 490h1v1h-1zM372 491h1v1h-1zM371 492h1v1h-1zM371 493h1v1h-1zM370 494h1v1h-1zM369 495h1v1h-1zM368 496h1v1h-1zM367 497h1v1h-1zM367 498h1v1h-1zM366 499h1v1h-1zM365 500h1v1h-1zM364 501h1v1h-1zM364 502h1v1h-1zM363 503h1v1h-1zM362 504h1v1h-1zM362 505h1v1h-1zM361 506h1v1h-1zM361 507h1v1h-1zM360 508h1v1h-1zM359 509h1v1h-1zM359 510h1v1h-1zM358 511h1v1h-1zM357 512h1v1h-1zM357 513h1v1h-1zM356 514h1v1h-1zM355 515h1v1h-1zM355 516h1v1h-1zM354 517h1v1h-1zM353 518h1v1h-1zM353 519h1v1h-1zM352 520h1v1h-1zM352 521h1v1h-1zM351 522h1v1h-1zM350 523h1v1h-1zM350 524h1v1h-1zM349 525h1v1h-1zM348 526h1v1h-1zM348 527h1v1h-1zM347 528h1v1h-1zM346 529h1v1h-1zM346 530h1v1h-1zM345 531h1v1h-1zM345 532h1v1h-1zM344 533h1v1h-1zM343 534h1v1h-1zM343 535h1v1h-1zM342 536h1v1h-1zM341 537h1v1h-1zM341 538h1v1h-1zM340 539h1v1h-1zM339 540h1v1h-1zM339 541h1v1h-1zM338 542h1v1h-1zM337 543h1v1h-1zM337 544h1v1h-1zM336 545h1v1h-1zM336 546h1v1h-1zM335 547h1v1h-1zM334 548h1v1h-1zM334 549h1v1h-1zM332 550h2v1h-2zM328 551h4v1h-4zM324 552h4v1h-4zM320 553h4v1h-4zM0 554h6v1h-6zM76 554h20v1h-20zM317 554h3v1h-3zM6 555h5v1h-5zM74 555h2v1h-2zM96 555h4v1h-4zM315 555h2v1h-2zM11 556h3v1h-3zM72 556h2v1h-2zM100 556h4v1h-4zM313 556h2v1h-2zM14 557h1v1h-1zM70 557h2v1h-2zM104 557h4v1h-4zM311 557h2v1h-2zM15 558h1v1h-1zM67 558h3v1h-3zM108 558h6v1h-6zM309 558h2v1h-2zM16 559h2v1h-2zM65 559h2v1h-2zM114 559h8v1h-8zM307 559h2v1h-2zM18 560h1v1h-1zM63 560h2v1h-2zM122 560h8v1h-8zM305 560h2v1h-2zM19 561h1v1h-1zM61 561h2v1h-2zM130 561h8v1h-8zM303 561h2v1h-2zM20 562h1v1h-1zM59 562h2v1h-2zM138 562h12v1h-12zM300 562h3v1h-3zM21 563h1v1h-1zM58 563h1v1h-1zM150 563h16v1h-16zM298 563h2v1h-2zM22 564h1v1h-1zM56 564h2v1h-2zM166 564h9v1h-9zM295 564h3v1h-3zM23 565h1v1h-1zM55 565h1v1h-1zM175 565h3v1h-3zM292 565h3v1h-3zM24 566h2v1h-2zM54 566h1v1h-1zM178 566h2v1h-2zM290 566h2v1h-2zM26 567h1v1h-1zM52 567h2v1h-2zM180 567h3v1h-3zM287 567h3v1h-3zM27 568h1v1h-1zM51 568h1v1h-1zM183 568h3v1h-3zM284 568h3v1h-3zM28 569h1v1h-1zM49 569h2v1h-2zM186 569h2v1h-2zM280 569h4v1h-4zM29 570h5v1h-5zM48 570h1v1h-1zM188 570h6v1h-6zM276 570h4v1h-4zM34 571h8v1h-8zM46 571h2v1h-2zM194 571h8v1h-8zM272 571h4v1h-4zM42 572h4v1h-4zM202 572h6v1h-6zM268 572h4v1h-4zM208 573h4v1h-4zM264 573h4v1h-4zM212 574h4v1h-4zM260 574h4v1h-4zM216 575h4v1h-4zM256 575h4v1h-4zM220 576h4v1h-4zM252 576h4v1h-4zM224 577h4v1h-4zM248 577h4v1h-4zM228 578h4v1h-4zM244 578h4v1h-4zM232 579h4v1h-4zM240 579h4v1h-4zM236 580h4v1h-4z" fill="#3cb371" shape-rendering="crispEdges"/>
<g shape-rendering="crispEdges">
<rect x="-3" y="500" width="1" height="13" fill="#000" />
<rect x="-8" y="505" width="11" height="4" fill="#000" />
<rect x="-7" y="506" width="9" height="2" fill="#fff" />
<rect x="13" y="468" width="1" height="24" fill="#000" />
<rect x="8" y="476" width="11" height="3" fill="#000" />
<rect x="9" y="477" width="9" height="1" fill="#fff" />
<rect x="29" y="477" width="1" height="84" fill="#000" />
<rect x="24" y="478" width="11" height="83" fill="#000" />
<rect x="45" y="536" width="1" height="36" fill="#000" />
<rect x="40" y="553" width="11" height="1" fill="#000" />
<rect x="61" y="497" width="1" height="72" fill="#000" />
<rect x="56" y="502" width="11" height="65" fill="#000" />
<rect x="57" y="503" width="9" height="63" fill="#fff" />
<rect x="77" y="455" width="1" height="33" fill="#000" />
<rect x="72" y="462" width="11" height="16" fill="#000" />
<rect x="93" y="464" width="1" height="28" fill="#000" />
<rect x="88" y="471" width="11" height="3" fill="#000" />
<rect x="109" y="403" width="1" height="47" fill="#000" />
<rect x="104" y="416" width="11" height="34" fill="#000" />
<rect x="105" y="417" width="9" height="32" fill="#fff" />
<rect x="125" y="405" width="1" height="39" fill="#000" />
<rect x="120" y="420" width="11" height="9" fill="#000" />
<rect x="121" y="421" width="9" height="7" fill="#fff" />
<rect x="141" y="396" width="1" height="21" fill="#000" />
<rect x="136" y="397" width="11" height="3" fill="#000" />
<rect x="157" y="407" width="1" height="43" fill="#000" />
<rect x="152" y="410" width="11" height="27" fill="#000" />
<rect x="173" y="383" width="1" height="42" fill="#000" />
<rect x="168" y="394" width="11" height="24" fill="#000" />
<rect x="169" y="395" width="9" height="22" fill="#fff" />
<rect x="189" y="376" width="1" height="37" fill="#000" />
<rect x="184" y="379" width="11" height="20" fill="#000" />
<rect x="185" y="380" width="9" height="18" fill="#fff" />
<rect x="205" y="367" width="1" height="36" fill="#000" />
<rect x="200" y="376" width="11" height="17" fill="#000" />
<rect x="221" y="357" width="1" height="21" fill="#000" />
<rect x="216" y="361" width="11" height="14" fill="#000" />
<rect x="217" y="362" width="9" height="12" fill="#fff" />
<rect x="237" y="338" width="1" height="32" fill="#000" />
<rect x="232" y="348" width="11" height="2" fill="#000" />
<rect x="253" y="345" width="1" height="42" fill="#000" />
<rect x="248" y="357" width="11" height="14" fill="#000" />
<rect x="269" y="356" width="1" height="27" fill="#000" />
<rect x="264" y="372" width="11" height="10" fill="#000" />
<rect x="265" y="373" width="9" height="8" fill="#fff" />
<rect x="285" y="358" width="1" height="25" fill="#000" />
<rect x="280" y="362" width="11" height="4" fill="#000" />
<rect x="281" y="363" width="9" height="2" fill="#fff" />
<rect x="301" y="313" width="1" height="39" fill="#000" />
<rect x="296" y="313" width="11" height="31" fill="#000" />
<rect x="297" y="314" width="9" height="29" fill="#fff" />
<rect x="317" y="294" width="1" height="35" fill="#000" />
<rect x="312" y="306" width="11" height="13" fill="#000" />
<rect x="333" y="319" width="1" height="26" fill="#000" />
<rect x="328" y="320" width="11" height="25" fill="#000" />
<rect x="329" y="321" width="9" height="23" fill="#fff" />
<rect x="349" y="307" width="1" height="32" fill="#000" />
<rect x="344" y="310" width="11" height="14" fill="#000" />
<rect x="345" y="311" width="9" height="12" fill="#fff" />
<rect x="365" y="270" width="1" height="34" fill="#000" />
<rect x="360" y="271" width="11" height="20" fill="#000" />
<rect x="361" y="272" width="9" height="18" fill="#fff" />
<rect x="381" y="258" width="1" height="44" fill="#000" />
<rect x="376" y="262" width="11" height="28" fill="#000" />
<rect x="397" y="281" width="1" height="17" fill="#000" />
<rect x="392" y="285" width="11" height="3" fill="#000" />
<rect x="413" y="281" width="1" height="48" fill="#000" />
<rect x="408" y="281" width="11" height="28" fill="#000" />
<rect x="409" y="282" width="9" height="26" fill="#fff" />
<rect x="429" y="262" width="1" height="38" fill="#000" />
<rect x="424" y="264" width="11" height="22" fill="#000" />
<rect x="425" y="265" width="9" height="20" fill="#fff" />
<rect x="445" y="259" width="1" height="26" fill="#000" />
<rect x="440" y="261" width="11" height="5" fill="#000" />
<rect x="461" y="229" width="1" height="39" fill="#000" />
<rect x="456" y="239" width="11" height="21" fill="#000" />
<rect x="457" y="240" width="9" height="19" fill="#fff" />
<rect x="477" y="235" width="1" height="22" fill="#000" />
<rect x="472" y="245" width="11" height="3" fill="#000" />
<rect x="473" y="246" width="9" height="1" fill="#fff" />
<rect x="493" y="255" width="1" height="43" fill="#000" />
<rect x="488" y="265" width="11" height="25" fill="#000" />
<rect x="509" y="240" width="1" height="25" fill="#000" />
<rect x="504" y="245" width="11" height="13" fill="#000" />
<rect x="505" y="246" width="9" height="11" fill="#fff" />
<rect x="525" y="234" width="1" height="31" fill="#000" />
<rect x="520" y="248" width="11" height="15" fill="#000" />
<rect x="541" y="223" width="1" height="28" fill="#000" />
<rect x="536" y="229" width="11" height="22" fill="#000" />
<rect x="537" y="230" width="9" height="20" fill="#fff" />
<rect x="557" y="203" width="1" height="40" fill="#000" />
<rect x="552" y="215" width="11" height="11" fill="#000" />
<rect x="553" y="216" width="9" height="9" fill="#fff" />
<rect x="573" y="195" width="1" height="43" fill="#000" />
<rect x="568" y="201" width="11" height="29" fill="#000" />
<rect x="569" y="202" width="9" height="27" fill="#fff" />
<rect x="589" y="181" width="1" height="27" fill="#000" />
<rect x="584" y="189" width="11" height="5" fill="#000" />
<rect x="605" y="181" width="1" height="29" fill="#000" />
<rect x="600" y="183" width="11" height="24" fill="#000" />
<rect x="621" y="179" width="1" height="34" fill="#000" />
<rect x="616" y="195" width="11" height="13" fill="#000" />
<rect x="637" y="191" width="1" height="33" fill="#000" />
<rect x="632" y="207" width="11" height="8" fill="#000" />
<rect x="653" y="198" width="1" height="18" fill="#000" />
<rect x="648" y="208" width="11" height="1" fill="#000" />
<rect x="669" y="159" width="1" height="50" fill="#000" />
<rect x="664" y="194" width="11" height="2" fill="#000" />
<rect x="685" y="184" width="1" height="30" fill="#000" />
<rect x="680" y="192" width="11" height="15" fill="#000" />
<rect x="681" y="193" width="9" height="13" fill="#fff" />
<rect x="701" y="175" width="1" height="21" fill="#000" />
<rect x="696" y="180" width="11" height="12" fill="#000" />
<rect x="697" y="181" width="9" height="10" fill="#fff" />
<rect x="717" y="182" width="1" height="27" fill="#000" />
<rect x="712" y="190" width="11" height="19" fill="#000" />
<rect x="733" y="229" width="1" height="32" fill="#000" />
<rect x="728" y="234" width="11" height="22" fill="#000" />
<rect x="749" y="227" width="1" height="42" fill="#000" />
<rect x="744" y="231" width="11" height="38" fill="#000" />
<rect x="745" y="232" width="9" height="36" fill="#fff" />
<rect x="765" y="184" width="1" height="25" fill="#000" />
<rect x="760" y="192" width="11" height="14" fill="#000" />
<rect x="761" y="193" width="9" height="12" fill="#fff" />
<rect x="781" y="186" width="1" height="25" fill="#000" />
<rect x="776" y="191" width="11" height="10" fill="#000" />
<rect x="797" y="186" width="1" height="28" fill="#000" />
<rect x="792" y="193" width="11" height="3" fill="#000" />
<rect x="793" y="194" width="9" height="1" fill="#fff" />
<rect x="813" y="159" width="1" height="40" fill="#000" />
<rect x="808" y="178" width="11" height="16" fill="#000" />
<rect x="809" y="179" width="9" height="14" fill="#fff" />
<rect x="829" y="141" width="1" height="37" fill="#000" />
<rect x="824" y="147" width="11" height="24" fill="#000" />
<rect x="825" y="148" width="9" height="22" fill="#fff" />
<rect x="845" y="132" width="1" height="20" fill="#000" />
<rect x="840" y="136" width="11" height="13" fill="#000" />
<rect x="841" y="137" width="9" height="11" fill="#fff" />
<rect x="861" y="139" width="1" height="20" fill="#000" />
<rect x="856" y="146" width="11" height="7" fill="#000" />
<rect x="877" y="138" width="1" height="39" fill="#000" />
<rect x="872" y="152" width="11" height="20" fill="#000" />
<rect x="893" y="157" width="1" height="42" fill="#000" />
<rect x="888" y="162" width="11" height="14" fill="#000" />
<rect x="909" y="213" width="1" height="25" fill="#000" />
<rect x="904" y="228" width="11" height="2" fill="#000" />
<rect x="925" y="206" width="1" height="33" fill="#000" />
<rect x="920" y="209" width="11" height="18" fill="#000" />
<rect x="941" y="199" width="1" height="23" fill="#000" />
<rect x="936" y="209" width="11" height="8" fill="#000" />
<rect x="937" y="210" width="9" height="6" fill="#fff" />
<rect x="957" y="195" width="1" height="28" fill="#000" />
<rect x="952" y="205" width="11" height="17" fill="#000" />
<rect x="953" y="206" width="9" height="15" fill="#fff" />
<rect x="973" y="166" width="1" height="39" fill="#000" />
<rect x="968" y="175" width="11" height="25" fill="#000" />
<rect x="969" y="176" width="9" height="23" fill="#fff" />
<rect x="989" y="119" width="1" height="25" fill="#000" />
<rect x="984" y="127" width="11" height="14" fill="#000" />
<rect x="985" y="128" width="9" height="12" fill="#fff" />
<rect x="1005" y="112" width="1" height="17" fill="#000" />
<rect x="1000" y="113" width="11" height="5" fill="#000" />
<rect x="1001" y="114" width="9" height="3" fill="#fff" />
<rect x="1021" y="83" width="1" height="30" fill="#000" />
<rect x="1016" y="92" width="11" height="18" fill="#000" />
<rect x="1017" y="93" width="9" height="16" fill="#fff" />
<rect x="1037" y="79" width="1" height="28" fill="#000" />
<rect x="1032" y="87" width="11" height="2" fill="#000" />
<rect x="1053" y="68" width="1" height="25" fill="#000" />
<rect x="1048" y="74" width="11" height="5" fill="#000" />
<rect x="1069" y="61" width="1" height="22" fill="#000" />
<rect x="1064" y="69" width="11" height="6" fill="#000" />
<rect x="1065" y="70" width="9" height="4" fill="#fff" />
<rect x="1085" y="71" width="1" height="24" fill="#000" />
<rect x="1080" y="77" width="11" height="5" fill="#000" />
<rect x="1081" y="78" width="9" height="3" fill="#fff" />
<rect x="1101" y="68" width="1" height="40" fill="#000" />
<rect x="1096" y="73" width="11" height="33" fill="#000" />
<rect x="1117" y="90" width="1" height="27" fill="#000" />
<rect x="1112" y="93" width="11" height="7" fill="#000" />
<rect x="1113" y="94" width="9" height="5" fill="#fff" />
<rect x="1133" y="57" width="1" height="54" fill="#000" />
<rect x="1128" y="74" width="11" height="32" fill="#000" />
<rect x="1149" y="71" width="1" height="47" fill="#000" />
<rect x="1144" y="77" width="11" height="32" fill="#000" />
<rect x="1145" y="78" width="9" height="30" fill="#fff" />
<rect x="1165" y="69" width="1" height="20" fill="#000" />
<rect x="1160" y="74" width="11" height="1" fill="#000" />
<rect x="1181" y="79" width="1" height="21" fill="#000" />
<rect x="1176" y="85" width="11" height="10" fill="#000" />
<rect x="1197" y="82" width="1" height="32" fill="#000" />
<rect x="1192" y="93" width="11" height="4" fill="#000" />
<rect x="1193" y="94" width="9" height="2" fill="#fff" />
<rect x="1213" y="77" width="1" height="46" fill="#000" />
<rect x="1208" y="82" width="11" height="30" fill="#000" />
<rect x="1229" y="103" width="1" height="33" fill="#000" />
<rect x="1224" y="123" width="11" height="12" fill="#000" />
<rect x="1245" y="137" width="1" height="24" fill="#000" />
<rect x="1240" y="147" width="11" height="14" fill="#000" />
<rect x="1241" y="148" width="9" height="12" fill="#fff" />
<rect x="1261" y="115" width="1" height="29" fill="#000" />
<rect x="1256" y="119" width="11" height="16" fill="#000" />
<rect x="1257" y="120" width="9" height="14" fill="#fff" />
<rect x="1277" y="124" width="1" height="25" fill="#000" />
<rect x="1272" y="127" width="11" height="13" fill="#000" />
<rect x="1293" y="113" width="1" height="34" fill="#000" />
<rect x="1288" y="121" width="11" height="24" fill="#000" />
<rect x="1289" y="122" width="9" height="22" fill="#fff" />
<rect x="1309" y="101" width="1" height="45" fill="#000" />
<rect x="1304" y="101" width="11" height="31" fill="#000" />
<rect x="1305" y="102" width="9" height="29" fill="#fff" />
<rect x="1325" y="156" width="1" height="57" fill="#000" />
<rect x="1320" y="156" width="11" height="31" fill="#000" />
<rect x="1341" y="160" width="1" height="30" fill="#000" />
<rect x="1336" y="173" width="11" height="2" fill="#000" />
<rect x="1357" y="185" width="1" height="34" fill="#000" />
<rect x="1352" y="202" width="11" height="17" fill="#000" />
<rect x="1353" y="203" width="9" height="15" fill="#fff" />
<rect x="1373" y="216" width="1" height="61" fill="#000" />
<rect x="1368" y="219" width="11" height="56" fill="#000" />
<rect x="-2.5" y="212.5" width="4" height="4" fill="#fff" stroke="#ff0000" stroke-width="1"/>
<rect x="1620.5" y="212.5" width="4" height="4" fill="#fff" stroke="#ff0000" stroke-width="1"/>
<rect x="-2.5" y="231.5" width="4" height="4" fill="#fff" stroke="#ff0000" stroke-width="1"/>
<rect x="1620.5" y="231.5" width="4" height="4" fill="#fff" stroke="#ff0000" stroke-width="1"/>
<rect x="-2.5" y="248.5" width="4" height="4" fill="#fff" stroke="#32cd32" stroke-width="1"/>
<rect x="1620.5" y="248.5" width="4" height="4" fill="#fff" stroke="#32cd32" stroke-width="1"/>
<rect x="-2.5" y="299.5" width="4" height="4" fill="#fff" stroke="#0000ff" stroke-width="1"/>
<rect x="1620.5" y="299.5" width="4" height="4" fill="#fff" stroke="#0000ff" stroke-width="1"/>
<rect x="-2.5" y="329.5" width="4" height="4" fill="#fff" stroke="#0000ff" stroke-width="1"/>
<rect x="1620.5" y="329.5" width="4" height="4" fill="#fff" stroke="#0000ff" stroke-width="1"/>
<rect x="1327" y="247" width="64" height="8" fill="#00ff00" />
<polygon points="1406,31 1418,31 1412,37" fill="#c0c0c0"/>
</g>
<g font-weight="bold">
<text x="1020.7 1053.8 1086.9 1120.0 1153.1" y="289.3" fill="#14246e" font-family="Liberation Serif, Noto Serif CJK SC, serif" font-weight="600" font-size="30.5px">多空转折点</text>
<text x="1185" y="288.7" fill="#14246e" font-family="Liberation Sans, sans-serif" font-size="33px" textLength="90.5" lengthAdjust="spacingAndGlyphs">28276</text>
<text x="1019.7 1052.8 1085.9 1119.0 1152.1" y="288.3" fill="#00f400" font-family="Liberation Serif, Noto Serif CJK SC, serif" font-weight="600" font-size="30.5px">多空转折点</text>
<text x="1184" y="287.7" fill="#00f400" font-family="Liberation Sans, sans-serif" font-size="33px" textLength="90.5" lengthAdjust="spacingAndGlyphs">28276</text>
</g>
<g shape-rendering="crispEdges">
<rect x="0" y="30" width="1626" height="1" fill="#000" />
<rect x="1625" y="30" width="1" height="901" fill="#000" />
<rect x="0" y="583" width="1626" height="1" fill="#000" />
<rect x="0" y="585" width="1626" height="1" fill="#000" />
<rect x="0" y="768" width="1626" height="1" fill="#000" />
<rect x="0" y="770" width="1626" height="1" fill="#000" />
<rect x="0" y="930" width="1626" height="1" fill="#000" />
<rect x="1671" y="27" width="1" height="924" fill="#e3e3e3" />
<rect x="1626" y="52" width="2" height="1" fill="#000" />
<rect x="1626" y="85" width="2" height="1" fill="#000" />
<rect x="1626" y="118" width="2" height="1" fill="#000" />
<rect x="1626" y="151" width="2" height="1" fill="#000" />
<rect x="1626" y="184" width="2" height="1" fill="#000" />
<rect x="1626" y="217" width="2" height="1" fill="#000" />
<rect x="1626" y="250" width="2" height="1" fill="#000" />
<rect x="1626" y="283" width="2" height="1" fill="#000" />
<rect x="1626" y="316" width="2" height="1" fill="#000" />
<rect x="1626" y="349" width="2" height="1" fill="#000" />
<rect x="1626" y="382" width="2" height="1" fill="#000" />
<rect x="1626" y="415" width="2" height="1" fill="#000" />
<rect x="1626" y="448" width="2" height="1" fill="#000" />
<rect x="1626" y="481" width="2" height="1" fill="#000" />
<rect x="1626" y="514" width="2" height="1" fill="#000" />
<rect x="1626" y="547" width="2" height="1" fill="#000" />
<rect x="1626" y="580" width="2" height="1" fill="#000" />
</g>
<g font-family="Liberation Sans, sans-serif" font-size="9.5px">
<text x="1631" y="55.8" textLength="33" lengthAdjust="spacingAndGlyphs" fill="#000" stroke="#000" stroke-width="0.18" xml:space="preserve">30386.0</text>
<text x="1631" y="88.8" textLength="33" lengthAdjust="spacingAndGlyphs" fill="#000" stroke="#000" stroke-width="0.18" xml:space="preserve">30029.0</text>
<text x="1631" y="121.8" textLength="33" lengthAdjust="spacingAndGlyphs" fill="#000" stroke="#000" stroke-width="0.18" xml:space="preserve">29682.5</text>
<text x="1631" y="154.8" textLength="33" lengthAdjust="spacingAndGlyphs" fill="#000" stroke="#000" stroke-width="0.18" xml:space="preserve">29325.5</text>
<text x="1631" y="187.8" textLength="33" lengthAdjust="spacingAndGlyphs" fill="#000" stroke="#000" stroke-width="0.18" xml:space="preserve">28979.0</text>
<text x="1631" y="220.8" textLength="33" lengthAdjust="spacingAndGlyphs" fill="#000" stroke="#000" stroke-width="0.18" xml:space="preserve">28632.5</text>
<text x="1631" y="286.8" textLength="33" lengthAdjust="spacingAndGlyphs" fill="#000" stroke="#000" stroke-width="0.18" xml:space="preserve">27929.0</text>
<text x="1631" y="319.8" textLength="33" lengthAdjust="spacingAndGlyphs" fill="#000" stroke="#000" stroke-width="0.18" xml:space="preserve">27572.0</text>
<text x="1631" y="352.8" textLength="33" lengthAdjust="spacingAndGlyphs" fill="#000" stroke="#000" stroke-width="0.18" xml:space="preserve">27225.5</text>
<text x="1631" y="385.8" textLength="33" lengthAdjust="spacingAndGlyphs" fill="#000" stroke="#000" stroke-width="0.18" xml:space="preserve">26868.5</text>
<text x="1631" y="418.8" textLength="33" lengthAdjust="spacingAndGlyphs" fill="#000" stroke="#000" stroke-width="0.18" xml:space="preserve">26522.0</text>
<text x="1631" y="451.8" textLength="33" lengthAdjust="spacingAndGlyphs" fill="#000" stroke="#000" stroke-width="0.18" xml:space="preserve">26165.0</text>
<text x="1631" y="484.8" textLength="33" lengthAdjust="spacingAndGlyphs" fill="#000" stroke="#000" stroke-width="0.18" xml:space="preserve">25818.5</text>
<text x="1631" y="517.8" textLength="33" lengthAdjust="spacingAndGlyphs" fill="#000" stroke="#000" stroke-width="0.18" xml:space="preserve">25461.5</text>
<text x="1631" y="550.8" textLength="33" lengthAdjust="spacingAndGlyphs" fill="#000" stroke="#000" stroke-width="0.18" xml:space="preserve">25115.0</text>
<text x="1631" y="583.8" textLength="33" lengthAdjust="spacingAndGlyphs" fill="#000" stroke="#000" stroke-width="0.18" xml:space="preserve">24768.5</text>
</g>
<g shape-rendering="crispEdges">
<rect x="1627" y="209" width="41" height="10" fill="#ff0000" />
<rect x="1627" y="228" width="41" height="10" fill="#ff0000" />
<rect x="1627" y="245" width="41" height="10" fill="#32cd32" />
<rect x="1627" y="270" width="41" height="10" fill="#000000" />
<rect x="1627" y="296" width="41" height="10" fill="#0000ff" />
<rect x="1627" y="326" width="41" height="10" fill="#0000ff" />
</g>
<g font-family="Liberation Sans, sans-serif" font-size="9.5px">
<text x="1631" y="217.2" textLength="33" lengthAdjust="spacingAndGlyphs" fill="#fff" stroke="#fff" stroke-width="0.18" xml:space="preserve">28655.3</text>
<text x="1631" y="236.2" textLength="33" lengthAdjust="spacingAndGlyphs" fill="#fff" stroke="#fff" stroke-width="0.18" xml:space="preserve">28455.6</text>
<text x="1631" y="253.2" textLength="33" lengthAdjust="spacingAndGlyphs" fill="#fff" stroke="#fff" stroke-width="0.18" xml:space="preserve">28276.2</text>
<text x="1631" y="278.2" textLength="33" lengthAdjust="spacingAndGlyphs" fill="#fff" stroke="#fff" stroke-width="0.18" xml:space="preserve">28020.0</text>
<text x="1631" y="304.2" textLength="33" lengthAdjust="spacingAndGlyphs" fill="#fff" stroke="#fff" stroke-width="0.18" xml:space="preserve">27728.7</text>
<text x="1631" y="334.2" textLength="33" lengthAdjust="spacingAndGlyphs" fill="#fff" stroke="#fff" stroke-width="0.18" xml:space="preserve">27419.8</text>
</g>
<g shape-rendering="crispEdges">
<rect x="12" y="708" width="2" height="33" fill="#c0c0c0" />
<rect x="28" y="708" width="2" height="44" fill="#c0c0c0" />
<rect x="44" y="708" width="2" height="52" fill="#c0c0c0" />
<rect x="60" y="708" width="2" height="48" fill="#c0c0c0" />
<rect x="76" y="708" width="2" height="40" fill="#c0c0c0" />
<rect x="92" y="708" width="2" height="32" fill="#c0c0c0" />
<rect x="108" y="708" width="2" height="15" fill="#c0c0c0" />
<rect x="124" y="708" width="2" height="2" fill="#c0c0c0" />
<rect x="140" y="695" width="2" height="13" fill="#c0c0c0" />
<rect x="156" y="691" width="2" height="17" fill="#c0c0c0" />
<rect x="172" y="680" width="2" height="28" fill="#c0c0c0" />
<rect x="188" y="670" width="2" height="38" fill="#c0c0c0" />
<rect x="204" y="664" width="2" height="44" fill="#c0c0c0" />
<rect x="220" y="654" width="2" height="54" fill="#c0c0c0" />
<rect x="236" y="645" width="2" height="63" fill="#c0c0c0" />
<rect x="252" y="642" width="2" height="66" fill="#c0c0c0" />
<rect x="268" y="641" width="2" height="67" fill="#c0c0c0" />
<rect x="284" y="639" width="2" height="69" fill="#c0c0c0" />
<rect x="300" y="629" width="2" height="79" fill="#c0c0c0" />
<rect x="316" y="623" width="2" height="85" fill="#c0c0c0" />
<rect x="332" y="620" width="2" height="88" fill="#c0c0c0" />
<rect x="348" y="617" width="2" height="91" fill="#c0c0c0" />
<rect x="364" y="608" width="2" height="100" fill="#c0c0c0" />
<rect x="380" y="605" width="2" height="103" fill="#c0c0c0" />
<rect x="396" y="604" width="2" height="104" fill="#c0c0c0" />
<rect x="412" y="603" width="2" height="105" fill="#c0c0c0" />
<rect x="428" y="601" width="2" height="107" fill="#c0c0c0" />
<rect x="444" y="600" width="2" height="108" fill="#c0c0c0" />
<rect x="460" y="596" width="2" height="112" fill="#c0c0c0" />
<rect x="476" y="595" width="2" height="113" fill="#c0c0c0" />
<rect x="492" y="604" width="2" height="104" fill="#c0c0c0" />
<rect x="508" y="604" width="2" height="104" fill="#c0c0c0" />
<rect x="524" y="608" width="2" height="100" fill="#c0c0c0" />
<rect x="540" y="606" width="2" height="102" fill="#c0c0c0" />
<rect x="556" y="603" width="2" height="105" fill="#c0c0c0" />
<rect x="572" y="600" width="2" height="108" fill="#c0c0c0" />
<rect x="588" y="596" width="2" height="112" fill="#c0c0c0" />
<rect x="604" y="598" width="2" height="110" fill="#c0c0c0" />
<rect x="620" y="600" width="2" height="108" fill="#c0c0c0" />
<rect x="636" y="605" width="2" height="103" fill="#c0c0c0" />
<rect x="652" y="608" width="2" height="100" fill="#c0c0c0" />
<rect x="668" y="609" width="2" height="99" fill="#c0c0c0" />
<rect x="684" y="611" width="2" height="97" fill="#c0c0c0" />
<rect x="700" y="611" width="2" height="97" fill="#c0c0c0" />
<rect x="716" y="618" width="2" height="90" fill="#c0c0c0" />
<rect x="732" y="633" width="2" height="75" fill="#c0c0c0" />
<rect x="748" y="641" width="2" height="67" fill="#c0c0c0" />
<rect x="764" y="641" width="2" height="67" fill="#c0c0c0" />
<rect x="780" y="643" width="2" height="65" fill="#c0c0c0" />
<rect x="796" y="644" width="2" height="64" fill="#c0c0c0" />
<rect x="812" y="643" width="2" height="65" fill="#c0c0c0" />
<rect x="828" y="637" width="2" height="71" fill="#c0c0c0" />
<rect x="844" y="631" width="2" height="77" fill="#c0c0c0" />
<rect x="860" y="630" width="2" height="78" fill="#c0c0c0" />
<rect x="876" y="634" width="2" height="74" fill="#c0c0c0" />
<rect x="892" y="639" width="2" height="69" fill="#c0c0c0" />
<rect x="908" y="653" width="2" height="55" fill="#c0c0c0" />
<rect x="924" y="664" width="2" height="44" fill="#c0c0c0" />
<rect x="940" y="671" width="2" height="37" fill="#c0c0c0" />
<rect x="956" y="675" width="2" height="33" fill="#c0c0c0" />
<rect x="972" y="674" width="2" height="34" fill="#c0c0c0" />
<rect x="988" y="664" width="2" height="44" fill="#c0c0c0" />
<rect x="1004" y="654" width="2" height="54" fill="#c0c0c0" />
<rect x="1020" y="643" width="2" height="65" fill="#c0c0c0" />
<rect x="1036" y="634" width="2" height="74" fill="#c0c0c0" />
<rect x="1052" y="626" width="2" height="82" fill="#c0c0c0" />
<rect x="1068" y="619" width="2" height="89" fill="#c0c0c0" />
<rect x="1084" y="616" width="2" height="92" fill="#c0c0c0" />
<rect x="1100" y="620" width="2" height="88" fill="#c0c0c0" />
<rect x="1116" y="622" width="2" height="86" fill="#c0c0c0" />
<rect x="1132" y="627" width="2" height="81" fill="#c0c0c0" />
<rect x="1148" y="626" width="2" height="82" fill="#c0c0c0" />
<rect x="1164" y="626" width="2" height="82" fill="#c0c0c0" />
<rect x="1180" y="631" width="2" height="77" fill="#c0c0c0" />
<rect x="1196" y="635" width="2" height="73" fill="#c0c0c0" />
<rect x="1212" y="643" width="2" height="65" fill="#c0c0c0" />
<rect x="1228" y="654" width="2" height="54" fill="#c0c0c0" />
<rect x="1244" y="666" width="2" height="42" fill="#c0c0c0" />
<rect x="1260" y="670" width="2" height="38" fill="#c0c0c0" />
<rect x="1276" y="677" width="2" height="31" fill="#c0c0c0" />
<rect x="1292" y="680" width="2" height="28" fill="#c0c0c0" />
<rect x="1308" y="679" width="2" height="29" fill="#c0c0c0" />
<rect x="1324" y="695" width="2" height="13" fill="#c0c0c0" />
<rect x="1340" y="704" width="2" height="4" fill="#c0c0c0" />
<rect x="1356" y="708" width="2" height="11" fill="#c0c0c0" />
<rect x="1372" y="708" width="2" height="34" fill="#c0c0c0" />
<rect x="1626" y="587" width="2" height="1" fill="#000" />
<rect x="1626" y="708" width="2" height="1" fill="#000" />
<rect x="1626" y="762" width="2" height="1" fill="#000" />
</g>
<path d="M585 601h3v1h-3zM591 601h3v1h-3zM597 601h1v1h-1zM490 602h2v1h-2zM495 602h3v1h-3zM501 602h3v1h-3zM507 602h3v1h-3zM513 602h3v1h-3zM519 602h3v1h-3zM525 602h3v1h-3zM531 602h3v1h-3zM537 602h3v1h-3zM543 602h3v1h-3zM549 602h3v1h-3zM555 602h3v1h-3zM561 602h3v1h-3zM567 602h3v1h-3zM573 602h3v1h-3zM579 602h3v1h-3zM598 602h2v1h-2zM603 602h3v1h-3zM609 602h3v1h-3zM615 602h3v1h-3zM621 602h3v1h-3zM627 602h3v1h-3zM633 602h3v1h-3zM639 602h3v1h-3zM483 603h3v1h-3zM489 603h1v1h-1zM645 603h3v1h-3zM477 604h3v1h-3zM651 604h3v1h-3zM657 604h3v1h-3zM663 604h3v1h-3zM669 604h3v1h-3zM675 604h3v1h-3zM681 604h3v1h-3zM687 604h3v1h-3zM693 604h3v1h-3zM699 604h3v1h-3zM705 604h1v1h-1zM466 605h2v1h-2zM471 605h3v1h-3zM706 605h2v1h-2zM711 605h3v1h-3zM459 606h3v1h-3zM465 606h1v1h-1zM717 606h3v1h-3zM454 607h2v1h-2zM723 607h1v1h-1zM448 608h2v1h-2zM453 608h1v1h-1zM724 608h2v1h-2zM443 609h1v1h-1zM447 609h1v1h-1zM729 609h3v1h-3zM441 610h2v1h-2zM435 611h3v1h-3zM735 611h3v1h-3zM429 612h3v1h-3zM741 612h1v1h-1zM425 613h1v1h-1zM742 613h2v1h-2zM423 614h2v1h-2zM747 614h1v1h-1zM418 615h2v1h-2zM748 615h2v1h-2zM417 616h1v1h-1zM753 616h1v1h-1zM412 617h2v1h-2zM754 617h2v1h-2zM411 618h1v1h-1zM759 618h2v1h-2zM405 619h3v1h-3zM761 619h1v1h-1zM400 620h2v1h-2zM765 620h3v1h-3zM399 621h1v1h-1zM771 621h1v1h-1zM393 622h3v1h-3zM772 622h2v1h-2zM777 623h3v1h-3zM387 624h3v1h-3zM783 624h1v1h-1zM1174 624h2v1h-2zM1179 624h3v1h-3zM1185 624h1v1h-1zM383 625h1v1h-1zM784 625h2v1h-2zM1162 625h2v1h-2zM1167 625h3v1h-3zM1173 625h1v1h-1zM1186 625h2v1h-2zM1191 625h3v1h-3zM381 626h2v1h-2zM789 626h3v1h-3zM1155 626h3v1h-3zM1161 626h1v1h-1zM1197 626h3v1h-3zM376 627h2v1h-2zM795 627h1v1h-1zM1149 627h3v1h-3zM1203 627h3v1h-3zM1209 627h1v1h-1zM375 628h1v1h-1zM796 628h2v1h-2zM1143 628h3v1h-3zM1210 628h2v1h-2zM1215 628h1v1h-1zM369 629h3v1h-3zM801 629h3v1h-3zM1137 629h3v1h-3zM1216 629h2v1h-2zM364 630h2v1h-2zM807 630h1v1h-1zM1132 630h2v1h-2zM1221 630h3v1h-3zM363 631h1v1h-1zM808 631h2v1h-2zM1131 631h1v1h-1zM1227 631h1v1h-1zM359 632h1v1h-1zM813 632h3v1h-3zM1125 632h3v1h-3zM1228 632h2v1h-2zM357 633h2v1h-2zM819 633h3v1h-3zM1120 633h2v1h-2zM1233 633h1v1h-1zM825 634h2v1h-2zM1119 634h1v1h-1zM1234 634h2v1h-2zM351 635h3v1h-3zM827 635h1v1h-1zM831 635h3v1h-3zM1114 635h2v1h-2zM1239 635h2v1h-2zM837 636h3v1h-3zM1113 636h1v1h-1zM1241 636h1v1h-1zM345 637h3v1h-3zM843 637h3v1h-3zM849 637h3v1h-3zM1108 637h2v1h-2zM1245 637h2v1h-2zM340 638h2v1h-2zM855 638h3v1h-3zM861 638h3v1h-3zM867 638h3v1h-3zM873 638h3v1h-3zM879 638h3v1h-3zM885 638h3v1h-3zM891 638h3v1h-3zM897 638h1v1h-1zM1107 638h1v1h-1zM1247 638h1v1h-1zM339 639h1v1h-1zM898 639h2v1h-2zM903 639h3v1h-3zM1103 639h1v1h-1zM1251 639h3v1h-3zM333 640h3v1h-3zM909 640h3v1h-3zM1101 640h2v1h-2zM915 641h3v1h-3zM921 641h1v1h-1zM1257 641h3v1h-3zM327 642h3v1h-3zM922 642h2v1h-2zM927 642h3v1h-3zM1095 642h3v1h-3zM933 643h3v1h-3zM1263 643h3v1h-3zM322 644h2v1h-2zM939 644h3v1h-3zM1090 644h2v1h-2zM321 645h1v1h-1zM945 645h3v1h-3zM1089 645h1v1h-1zM1269 645h2v1h-2zM316 646h2v1h-2zM951 646h1v1h-1zM1084 646h2v1h-2zM1271 646h1v1h-1zM315 647h1v1h-1zM952 647h2v1h-2zM1083 647h1v1h-1zM1275 647h1v1h-1zM311 648h1v1h-1zM957 648h3v1h-3zM1079 648h1v1h-1zM1276 648h2v1h-2zM309 649h2v1h-2zM963 649h1v1h-1zM1077 649h2v1h-2zM1281 649h1v1h-1zM964 650h2v1h-2zM1282 650h2v1h-2zM303 651h3v1h-3zM969 651h3v1h-3zM1071 651h3v1h-3zM975 652h1v1h-1zM1287 652h3v1h-3zM298 653h2v1h-2zM976 653h2v1h-2zM1065 653h3v1h-3zM297 654h1v1h-1zM981 654h3v1h-3zM1293 654h3v1h-3zM987 655h1v1h-1zM1059 655h3v1h-3zM1299 655h1v1h-1zM291 656h3v1h-3zM988 656h2v1h-2zM993 656h1v1h-1zM1055 656h1v1h-1zM1300 656h2v1h-2zM994 657h2v1h-2zM999 657h3v1h-3zM1053 657h2v1h-2zM1305 657h3v1h-3zM287 658h1v1h-1zM1005 658h3v1h-3zM1011 658h3v1h-3zM1042 658h2v1h-2zM1047 658h3v1h-3zM285 659h2v1h-2zM1017 659h3v1h-3zM1023 659h3v1h-3zM1029 659h3v1h-3zM1035 659h3v1h-3zM1041 659h1v1h-1zM1311 659h2v1h-2zM1313 660h1v1h-1zM280 661h2v1h-2zM279 662h1v1h-1zM1317 662h2v1h-2zM275 663h1v1h-1zM1319 663h1v1h-1zM273 664h2v1h-2zM1323 665h2v1h-2zM268 666h2v1h-2zM1325 666h1v1h-1zM267 667h1v1h-1zM263 668h1v1h-1zM1329 668h2v1h-2zM261 669h2v1h-2zM1331 669h1v1h-1zM255 671h3v1h-3zM1335 671h2v1h-2zM1337 672h1v1h-1zM251 673h1v1h-1zM250 674h1v1h-1zM1341 674h1v1h-1zM249 675h1v1h-1zM1342 675h2v1h-2zM245 677h1v1h-1zM1347 677h1v1h-1zM243 678h2v1h-2zM1348 678h2v1h-2zM238 681h2v1h-2zM1353 681h2v1h-2zM237 682h1v1h-1zM1355 682h1v1h-1zM1359 684h1v1h-1zM232 685h2v1h-2zM1360 685h2v1h-2zM231 686h1v1h-1zM1365 687h1v1h-1zM1366 688h1v1h-1zM227 689h1v1h-1zM1367 689h1v1h-1zM225 690h2v1h-2zM1371 691h2v1h-2zM1373 692h1v1h-1zM221 693h1v1h-1zM219 694h2v1h-2zM214 697h2v1h-2zM213 698h1v1h-1zM208 701h2v1h-2zM207 702h1v1h-1zM203 704h1v1h-1zM201 705h2v1h-2zM196 708h2v1h-2zM195 709h1v1h-1zM190 711h2v1h-2zM189 712h1v1h-1zM184 715h2v1h-2zM183 716h1v1h-1zM179 718h1v1h-1zM178 719h1v1h-1zM177 720h1v1h-1zM173 722h1v1h-1zM171 723h2v1h-2zM3 724h3v1h-3zM9 725h2v1h-2zM167 725h1v1h-1zM11 726h1v1h-1zM165 726h2v1h-2zM15 727h3v1h-3zM21 728h1v1h-1zM161 728h1v1h-1zM22 729h2v1h-2zM159 729h2v1h-2zM27 730h1v1h-1zM28 731h2v1h-2zM154 731h2v1h-2zM33 732h1v1h-1zM153 732h1v1h-1zM34 733h2v1h-2zM148 733h2v1h-2zM147 734h1v1h-1zM39 735h3v1h-3zM143 735h1v1h-1zM141 736h2v1h-2zM45 737h2v1h-2zM47 738h1v1h-1zM135 738h3v1h-3zM51 739h3v1h-3zM130 740h2v1h-2zM57 741h3v1h-3zM129 741h1v1h-1zM63 742h3v1h-3zM123 742h3v1h-3zM69 743h3v1h-3zM117 743h3v1h-3zM75 744h3v1h-3zM81 744h1v1h-1zM106 744h2v1h-2zM111 744h3v1h-3zM82 745h2v1h-2zM87 745h3v1h-3zM99 745h3v1h-3zM105 745h1v1h-1zM93 746h3v1h-3z" fill="#ff0000" shape-rendering="crispEdges"/>
<g font-family="Liberation Sans, sans-serif" font-size="9.5px">
<text x="2" y="598" textLength="125" lengthAdjust="spacingAndGlyphs" fill="#000" stroke="#000" stroke-width="0.18" xml:space="preserve">MACD(12,26,9) -149.56 71.86</text>
<text x="1630" y="596" textLength="27.5" lengthAdjust="spacingAndGlyphs" fill="#000" stroke="#000" stroke-width="0.18" xml:space="preserve">548.39</text>
<text x="1630" y="712" textLength="18" lengthAdjust="spacingAndGlyphs" fill="#000" stroke="#000" stroke-width="0.18" xml:space="preserve">0.00</text>
<text x="1630" y="765" textLength="30.5" lengthAdjust="spacingAndGlyphs" fill="#000" stroke="#000" stroke-width="0.18" xml:space="preserve">-266.82</text>
</g>
<g shape-rendering="crispEdges">
<line x1="0" y1="803.5" x2="1625" y2="803.5" stroke="#c0c0c0" stroke-width="1" stroke-dasharray="3 3"/>
<line x1="0" y1="850.5" x2="1625" y2="850.5" stroke="#c0c0c0" stroke-width="1" stroke-dasharray="3 3"/>
<line x1="0" y1="906.5" x2="1625" y2="906.5" stroke="#c0c0c0" stroke-width="1" stroke-dasharray="3 3"/>
</g>
<path d="M460 816h6v1h-6zM1066 816h6v1h-6zM457 817h3v1h-3zM466 817h8v1h-8zM1058 817h8v1h-8zM1072 817h4v1h-4zM454 818h3v1h-3zM474 818h4v1h-4zM1050 818h8v1h-8zM1076 818h4v1h-4zM364 819h3v1h-3zM450 819h4v1h-4zM478 819h1v1h-1zM1042 819h8v1h-8zM1080 819h4v1h-4zM362 820h2v1h-2zM367 820h2v1h-2zM428 820h10v1h-10zM447 820h3v1h-3zM479 820h1v1h-1zM586 820h5v1h-5zM699 820h3v1h-3zM1034 820h8v1h-8zM1084 820h2v1h-2zM360 821h2v1h-2zM369 821h2v1h-2zM424 821h4v1h-4zM438 821h9v1h-9zM480 821h1v1h-1zM578 821h8v1h-8zM591 821h3v1h-3zM694 821h5v1h-5zM702 821h1v1h-1zM1026 821h8v1h-8zM1086 821h1v1h-1zM358 822h2v1h-2zM371 822h3v1h-3zM420 822h4v1h-4zM480 822h1v1h-1zM570 822h8v1h-8zM594 822h2v1h-2zM688 822h6v1h-6zM703 822h1v1h-1zM842 822h5v1h-5zM1020 822h6v1h-6zM1087 822h1v1h-1zM355 823h3v1h-3zM374 823h2v1h-2zM416 823h4v1h-4zM481 823h1v1h-1zM562 823h8v1h-8zM596 823h3v1h-3zM668 823h20v1h-20zM704 823h2v1h-2zM834 823h8v1h-8zM847 823h2v1h-2zM1016 823h4v1h-4zM1088 823h2v1h-2zM353 824h2v1h-2zM376 824h2v1h-2zM410 824h6v1h-6zM482 824h1v1h-1zM554 824h8v1h-8zM599 824h3v1h-3zM665 824h3v1h-3zM706 824h1v1h-1zM828 824h6v1h-6zM849 824h2v1h-2zM1012 824h4v1h-4zM1090 824h1v1h-1zM351 825h2v1h-2zM378 825h2v1h-2zM402 825h8v1h-8zM483 825h1v1h-1zM546 825h8v1h-8zM602 825h2v1h-2zM662 825h3v1h-3zM707 825h1v1h-1zM826 825h2v1h-2zM851 825h3v1h-3zM1008 825h4v1h-4zM1091 825h1v1h-1zM301 826h5v1h-5zM346 826h5v1h-5zM380 826h22v1h-22zM484 826h1v1h-1zM541 826h5v1h-5zM604 826h22v1h-22zM658 826h4v1h-4zM708 826h1v1h-1zM824 826h2v1h-2zM854 826h2v1h-2zM1002 826h6v1h-6zM1092 826h1v1h-1zM299 827h2v1h-2zM306 827h8v1h-8zM338 827h8v1h-8zM485 827h1v1h-1zM539 827h2v1h-2zM626 827h8v1h-8zM655 827h3v1h-3zM709 827h1v1h-1zM822 827h2v1h-2zM856 827h2v1h-2zM994 827h8v1h-8zM1093 827h1v1h-1zM297 828h2v1h-2zM314 828h24v1h-24zM485 828h1v1h-1zM509 828h2v1h-2zM537 828h2v1h-2zM634 828h21v1h-21zM710 828h1v1h-1zM819 828h3v1h-3zM858 828h2v1h-2zM989 828h5v1h-5zM1094 828h1v1h-1zM1149 828h18v1h-18zM235 829h4v1h-4zM295 829h2v1h-2zM486 829h1v1h-1zM507 829h2v1h-2zM511 829h3v1h-3zM535 829h2v1h-2zM711 829h1v1h-1zM817 829h2v1h-2zM860 829h3v1h-3zM987 829h2v1h-2zM1095 829h1v1h-1zM1147 829h2v1h-2zM1167 829h2v1h-2zM230 830h5v1h-5zM239 830h2v1h-2zM293 830h2v1h-2zM487 830h1v1h-1zM505 830h2v1h-2zM514 830h2v1h-2zM533 830h2v1h-2zM712 830h2v1h-2zM815 830h2v1h-2zM863 830h2v1h-2zM986 830h1v1h-1zM1096 830h2v1h-2zM1116 830h3v1h-3zM1145 830h2v1h-2zM1169 830h2v1h-2zM224 831h6v1h-6zM241 831h2v1h-2zM291 831h2v1h-2zM488 831h1v1h-1zM503 831h2v1h-2zM516 831h3v1h-3zM531 831h2v1h-2zM714 831h1v1h-1zM812 831h3v1h-3zM865 831h2v1h-2zM984 831h2v1h-2zM1098 831h1v1h-1zM1112 831h4v1h-4zM1119 831h3v1h-3zM1143 831h2v1h-2zM1171 831h2v1h-2zM220 832h4v1h-4zM243 832h3v1h-3zM289 832h2v1h-2zM489 832h1v1h-1zM502 832h1v1h-1zM519 832h3v1h-3zM529 832h2v1h-2zM715 832h1v1h-1zM809 832h3v1h-3zM867 832h3v1h-3zM983 832h1v1h-1zM1099 832h1v1h-1zM1108 832h4v1h-4zM1122 832h2v1h-2zM1141 832h2v1h-2zM1173 832h2v1h-2zM218 833h2v1h-2zM246 833h2v1h-2zM287 833h2v1h-2zM490 833h1v1h-1zM500 833h2v1h-2zM522 833h2v1h-2zM527 833h2v1h-2zM716 833h1v1h-1zM806 833h3v1h-3zM870 833h2v1h-2zM982 833h1v1h-1zM1100 833h1v1h-1zM1104 833h4v1h-4zM1124 833h3v1h-3zM1139 833h2v1h-2zM1175 833h2v1h-2zM186 834h6v1h-6zM215 834h3v1h-3zM248 834h2v1h-2zM282 834h5v1h-5zM490 834h1v1h-1zM498 834h2v1h-2zM524 834h3v1h-3zM717 834h1v1h-1zM765 834h3v1h-3zM802 834h4v1h-4zM872 834h2v1h-2zM980 834h2v1h-2zM1101 834h3v1h-3zM1127 834h3v1h-3zM1137 834h2v1h-2zM1177 834h2v1h-2zM140 835h2v1h-2zM178 835h8v1h-8zM192 835h4v1h-4zM212 835h3v1h-3zM250 835h2v1h-2zM274 835h8v1h-8zM491 835h1v1h-1zM496 835h2v1h-2zM718 835h1v1h-1zM763 835h2v1h-2zM768 835h4v1h-4zM799 835h3v1h-3zM874 835h2v1h-2zM979 835h1v1h-1zM1130 835h2v1h-2zM1135 835h2v1h-2zM1179 835h2v1h-2zM1190 835h9v1h-9zM137 836h3v1h-3zM142 836h2v1h-2zM173 836h5v1h-5zM196 836h4v1h-4zM210 836h2v1h-2zM252 836h22v1h-22zM492 836h1v1h-1zM494 836h2v1h-2zM719 836h1v1h-1zM762 836h1v1h-1zM772 836h4v1h-4zM794 836h5v1h-5zM876 836h6v1h-6zM977 836h2v1h-2zM1132 836h3v1h-3zM1181 836h9v1h-9zM1199 836h2v1h-2zM134 837h3v1h-3zM144 837h2v1h-2zM171 837h2v1h-2zM200 837h4v1h-4zM207 837h3v1h-3zM493 837h1v1h-1zM720 837h1v1h-1zM760 837h2v1h-2zM776 837h4v1h-4zM786 837h8v1h-8zM882 837h8v1h-8zM976 837h1v1h-1zM1201 837h2v1h-2zM109 838h5v1h-5zM130 838h4v1h-4zM146 838h2v1h-2zM169 838h2v1h-2zM204 838h3v1h-3zM721 838h1v1h-1zM758 838h2v1h-2zM780 838h6v1h-6zM890 838h4v1h-4zM974 838h2v1h-2zM1203 838h2v1h-2zM107 839h2v1h-2zM114 839h8v1h-8zM127 839h3v1h-3zM148 839h2v1h-2zM167 839h2v1h-2zM721 839h1v1h-1zM757 839h1v1h-1zM894 839h1v1h-1zM973 839h1v1h-1zM1205 839h2v1h-2zM106 840h1v1h-1zM122 840h5v1h-5zM150 840h1v1h-1zM165 840h2v1h-2zM722 840h1v1h-1zM755 840h2v1h-2zM895 840h1v1h-1zM971 840h2v1h-2zM1207 840h2v1h-2zM104 841h2v1h-2zM151 841h2v1h-2zM163 841h2v1h-2zM723 841h1v1h-1zM754 841h1v1h-1zM896 841h1v1h-1zM969 841h2v1h-2zM1209 841h2v1h-2zM1308 841h2v1h-2zM103 842h1v1h-1zM153 842h2v1h-2zM161 842h2v1h-2zM724 842h1v1h-1zM752 842h2v1h-2zM897 842h1v1h-1zM967 842h2v1h-2zM1211 842h2v1h-2zM1306 842h2v1h-2zM1310 842h1v1h-1zM102 843h1v1h-1zM155 843h2v1h-2zM159 843h2v1h-2zM725 843h1v1h-1zM750 843h2v1h-2zM898 843h1v1h-1zM966 843h1v1h-1zM1213 843h1v1h-1zM1303 843h3v1h-3zM1310 843h1v1h-1zM100 844h2v1h-2zM157 844h2v1h-2zM726 844h1v1h-1zM749 844h1v1h-1zM899 844h1v1h-1zM964 844h2v1h-2zM1214 844h2v1h-2zM1300 844h3v1h-3zM1311 844h1v1h-1zM99 845h1v1h-1zM727 845h1v1h-1zM747 845h2v1h-2zM900 845h1v1h-1zM962 845h2v1h-2zM1216 845h2v1h-2zM1298 845h2v1h-2zM1312 845h1v1h-1zM97 846h2v1h-2zM728 846h1v1h-1zM745 846h2v1h-2zM901 846h1v1h-1zM960 846h2v1h-2zM1218 846h2v1h-2zM1261 846h2v1h-2zM1295 846h3v1h-3zM1312 846h1v1h-1zM96 847h1v1h-1zM729 847h1v1h-1zM743 847h2v1h-2zM901 847h1v1h-1zM958 847h2v1h-2zM1220 847h2v1h-2zM1259 847h2v1h-2zM1263 847h2v1h-2zM1292 847h3v1h-3zM1313 847h1v1h-1zM94 848h2v1h-2zM729 848h1v1h-1zM741 848h2v1h-2zM902 848h1v1h-1zM954 848h4v1h-4zM1222 848h1v1h-1zM1258 848h1v1h-1zM1265 848h2v1h-2zM1290 848h2v1h-2zM1314 848h1v1h-1zM86 849h8v1h-8zM730 849h1v1h-1zM739 849h2v1h-2zM903 849h1v1h-1zM946 849h8v1h-8zM1223 849h2v1h-2zM1256 849h2v1h-2zM1267 849h2v1h-2zM1288 849h2v1h-2zM1314 849h1v1h-1zM76 850h10v1h-10zM731 850h1v1h-1zM737 850h2v1h-2zM904 850h1v1h-1zM940 850h6v1h-6zM1225 850h2v1h-2zM1254 850h2v1h-2zM1269 850h2v1h-2zM1286 850h2v1h-2zM1315 850h1v1h-1zM74 851h2v1h-2zM732 851h1v1h-1zM735 851h2v1h-2zM905 851h1v1h-1zM937 851h3v1h-3zM1227 851h2v1h-2zM1253 851h1v1h-1zM1271 851h2v1h-2zM1283 851h3v1h-3zM1316 851h1v1h-1zM12 852h2v1h-2zM71 852h3v1h-3zM733 852h2v1h-2zM906 852h1v1h-1zM934 852h3v1h-3zM1229 852h3v1h-3zM1251 852h2v1h-2zM1273 852h2v1h-2zM1281 852h2v1h-2zM1316 852h1v1h-1zM10 853h2v1h-2zM14 853h1v1h-1zM68 853h3v1h-3zM907 853h1v1h-1zM930 853h4v1h-4zM1232 853h4v1h-4zM1250 853h1v1h-1zM1275 853h2v1h-2zM1279 853h2v1h-2zM1317 853h1v1h-1zM7 854h3v1h-3zM15 854h1v1h-1zM66 854h2v1h-2zM908 854h1v1h-1zM927 854h3v1h-3zM1236 854h4v1h-4zM1248 854h2v1h-2zM1277 854h2v1h-2zM1318 854h1v1h-1zM4 855h3v1h-3zM16 855h1v1h-1zM63 855h3v1h-3zM909 855h18v1h-18zM1240 855h4v1h-4zM1246 855h2v1h-2zM1318 855h1v1h-1zM2 856h2v1h-2zM17 856h1v1h-1zM61 856h2v1h-2zM1244 856h2v1h-2zM1319 856h1v1h-1zM0 857h2v1h-2zM17 857h1v1h-1zM60 857h1v1h-1zM1320 857h1v1h-1zM18 858h1v1h-1zM58 858h2v1h-2zM1320 858h1v1h-1zM19 859h1v1h-1zM57 859h1v1h-1zM1321 859h1v1h-1zM20 860h1v1h-1zM56 860h1v1h-1zM1322 860h1v1h-1zM21 861h1v1h-1zM54 861h2v1h-2zM1322 861h1v1h-1zM1340 861h3v1h-3zM22 862h1v1h-1zM53 862h1v1h-1zM1323 862h1v1h-1zM1336 862h4v1h-4zM1343 862h2v1h-2zM23 863h1v1h-1zM52 863h1v1h-1zM1324 863h1v1h-1zM1332 863h4v1h-4zM1345 863h2v1h-2zM24 864h1v1h-1zM50 864h2v1h-2zM1324 864h1v1h-1zM1328 864h4v1h-4zM1347 864h3v1h-3zM25 865h1v1h-1zM49 865h1v1h-1zM1325 865h3v1h-3zM1350 865h2v1h-2zM25 866h1v1h-1zM48 866h1v1h-1zM1352 866h2v1h-2zM26 867h1v1h-1zM46 867h2v1h-2zM1354 867h2v1h-2zM27 868h1v1h-1zM42 868h4v1h-4zM1356 868h2v1h-2zM28 869h1v1h-1zM34 869h8v1h-8zM1358 869h2v1h-2zM29 870h5v1h-5zM1360 870h1v1h-1zM1361 871h1v1h-1zM1362 872h2v1h-2zM1364 873h1v1h-1zM1365 874h1v1h-1zM1366 875h2v1h-2zM1368 876h1v1h-1zM1369 877h1v1h-1zM1370 878h2v1h-2zM1372 879h1v1h-1zM1373 880h1v1h-1z" fill="#1e90ff" shape-rendering="crispEdges"/>
<g font-family="Liberation Sans, sans-serif" font-size="9.5px">
<text x="2" y="783" textLength="67" lengthAdjust="spacingAndGlyphs" fill="#000" stroke="#000" stroke-width="0.18" xml:space="preserve">RSI(14) 31.4530</text>
<text x="1630" y="780.7" textLength="15.24" lengthAdjust="spacingAndGlyphs" fill="#000" stroke="#000" stroke-width="0.18" xml:space="preserve">100</text>
<text x="1630" y="806.7" textLength="10.16" lengthAdjust="spacingAndGlyphs" fill="#000" stroke="#000" stroke-width="0.18" xml:space="preserve">80</text>
<text x="1630" y="853.7" textLength="10.16" lengthAdjust="spacingAndGlyphs" fill="#000" stroke="#000" stroke-width="0.18" xml:space="preserve">50</text>
<text x="1630" y="909.7" textLength="10.16" lengthAdjust="spacingAndGlyphs" fill="#000" stroke="#000" stroke-width="0.18" xml:space="preserve">15</text>
<text x="1630" y="926.7" textLength="5.08" lengthAdjust="spacingAndGlyphs" fill="#000" stroke="#000" stroke-width="0.18" xml:space="preserve">0</text>
</g>
<g shape-rendering="crispEdges">
<rect x="-3" y="931" width="1" height="3" fill="#000" />
<rect x="61" y="931" width="1" height="3" fill="#000" />
<rect x="125" y="931" width="1" height="3" fill="#000" />
<rect x="189" y="931" width="1" height="3" fill="#000" />
<rect x="253" y="931" width="1" height="3" fill="#000" />
<rect x="317" y="931" width="1" height="3" fill="#000" />
<rect x="381" y="931" width="1" height="3" fill="#000" />
<rect x="445" y="931" width="1" height="3" fill="#000" />
<rect x="509" y="931" width="1" height="3" fill="#000" />
<rect x="573" y="931" width="1" height="3" fill="#000" />
<rect x="637" y="931" width="1" height="3" fill="#000" />
<rect x="701" y="931" width="1" height="3" fill="#000" />
<rect x="765" y="931" width="1" height="3" fill="#000" />
<rect x="829" y="931" width="1" height="3" fill="#000" />
<rect x="893" y="931" width="1" height="3" fill="#000" />
<rect x="957" y="931" width="1" height="3" fill="#000" />
<rect x="1021" y="931" width="1" height="3" fill="#000" />
<rect x="1085" y="931" width="1" height="3" fill="#000" />
<rect x="1149" y="931" width="1" height="3" fill="#000" />
<rect x="1213" y="931" width="1" height="3" fill="#000" />
<rect x="1277" y="931" width="1" height="3" fill="#000" />
<rect x="1341" y="931" width="1" height="3" fill="#000" />
</g>
<g font-family="Liberation Sans, sans-serif" font-size="9.5px">
<text x="-3.5" y="943.3" textLength="51.03" lengthAdjust="spacingAndGlyphs" fill="#000" stroke="#000" stroke-width="0.18" xml:space="preserve">28 Dec 2018</text>
<text x="60.5" y="943.3" textLength="44.09" lengthAdjust="spacingAndGlyphs" fill="#000" stroke="#000" stroke-width="0.18" xml:space="preserve">4 Jan 2019</text>
<text x="124.5" y="943.3" textLength="49.04" lengthAdjust="spacingAndGlyphs" fill="#000" stroke="#000" stroke-width="0.18" xml:space="preserve">10 Jan 2019</text>
<text x="188.5" y="943.3" textLength="49.04" lengthAdjust="spacingAndGlyphs" fill="#000" stroke="#000" stroke-width="0.18" xml:space="preserve">16 Jan 2019</text>
<text x="252.5" y="943.3" textLength="49.04" lengthAdjust="spacingAndGlyphs" fill="#000" stroke="#000" stroke-width="0.18" xml:space="preserve">22 Jan 2019</text>
<text x="316.5" y="943.3" textLength="49.04" lengthAdjust="spacingAndGlyphs" fill="#000" stroke="#000" stroke-width="0.18" xml:space="preserve">28 Jan 2019</text>
<text x="380.5" y="943.3" textLength="46.08" lengthAdjust="spacingAndGlyphs" fill="#000" stroke="#000" stroke-width="0.18" xml:space="preserve">1 Feb 2019</text>
<text x="444.5" y="943.3" textLength="51.14" lengthAdjust="spacingAndGlyphs" fill="#000" stroke="#000" stroke-width="0.18" xml:space="preserve">12 Feb 2019</text>
<text x="508.5" y="943.3" textLength="51.14" lengthAdjust="spacingAndGlyphs" fill="#000" stroke="#000" stroke-width="0.18" xml:space="preserve">18 Feb 2019</text>
<text x="572.5" y="943.3" textLength="51.14" lengthAdjust="spacingAndGlyphs" fill="#000" stroke="#000" stroke-width="0.18" xml:space="preserve">22 Feb 2019</text>
<text x="636.5" y="943.3" textLength="51.14" lengthAdjust="spacingAndGlyphs" fill="#000" stroke="#000" stroke-width="0.18" xml:space="preserve">28 Feb 2019</text>
<text x="700.5" y="943.3" textLength="46.43" lengthAdjust="spacingAndGlyphs" fill="#000" stroke="#000" stroke-width="0.18" xml:space="preserve">6 Mar 2019</text>
<text x="764.5" y="943.3" textLength="51.54" lengthAdjust="spacingAndGlyphs" fill="#000" stroke="#000" stroke-width="0.18" xml:space="preserve">12 Mar 2019</text>
<text x="828.5" y="943.3" textLength="51.54" lengthAdjust="spacingAndGlyphs" fill="#000" stroke="#000" stroke-width="0.18" xml:space="preserve">18 Mar 2019</text>
<text x="892.5" y="943.3" textLength="51.54" lengthAdjust="spacingAndGlyphs" fill="#000" stroke="#000" stroke-width="0.18" xml:space="preserve">22 Mar 2019</text>
<text x="956.5" y="943.3" textLength="51.54" lengthAdjust="spacingAndGlyphs" fill="#000" stroke="#000" stroke-width="0.18" xml:space="preserve">28 Mar 2019</text>
<text x="1020.5" y="943.3" textLength="44.84" lengthAdjust="spacingAndGlyphs" fill="#000" stroke="#000" stroke-width="0.18" xml:space="preserve">3 Apr 2019</text>
<text x="1084.5" y="943.3" textLength="49.99" lengthAdjust="spacingAndGlyphs" fill="#000" stroke="#000" stroke-width="0.18" xml:space="preserve">10 Apr 2019</text>
<text x="1148.5" y="943.3" textLength="49.99" lengthAdjust="spacingAndGlyphs" fill="#000" stroke="#000" stroke-width="0.18" xml:space="preserve">16 Apr 2019</text>
<text x="1212.5" y="943.3" textLength="49.99" lengthAdjust="spacingAndGlyphs" fill="#000" stroke="#000" stroke-width="0.18" xml:space="preserve">24 Apr 2019</text>
<text x="1276.5" y="943.3" textLength="49.99" lengthAdjust="spacingAndGlyphs" fill="#000" stroke="#000" stroke-width="0.18" xml:space="preserve">30 Apr 2019</text>
<text x="1340.5" y="943.3" textLength="49.75" lengthAdjust="spacingAndGlyphs" fill="#000" stroke="#000" stroke-width="0.18" xml:space="preserve">7 May 2019</text>
</g>
<polygon points="0,41 7.5,41 3.75,36.5" fill="#000"/>
<g font-family="Liberation Sans, sans-serif" font-size="10.3px">
<text x="12" y="42" textLength="50.5" lengthAdjust="spacingAndGlyphs" fill="#000" stroke="#000" stroke-width="0.18" xml:space="preserve">HK50-,Daily</text>
<text x="69.2" y="42" textLength="141" lengthAdjust="spacingAndGlyphs" fill="#000" stroke="#000" stroke-width="0.18" xml:space="preserve">28607.0 28642.5 28003.0 28020.0</text>
</g>
<g shape-rendering="crispEdges">
<rect x="0" y="50" width="52" height="25" fill="#b40000" />
<rect x="1" y="51" width="50" height="24" fill="url(#gTab)" />
<rect x="167" y="50" width="52" height="25" fill="#b40000" />
<rect x="168" y="51" width="50" height="24" fill="url(#gTab)" />
<rect x="0" y="74" width="109" height="40" fill="#b40000" />
<rect x="1" y="75" width="107" height="38" fill="url(#gBox)" />
<rect x="111" y="74" width="108" height="40" fill="#b40000" />
<rect x="112" y="75" width="106" height="38" fill="url(#gBox)" />
<rect x="1" y="74" width="50" height="1" fill="#dc3030" />
<rect x="168" y="74" width="50" height="1" fill="#dc3030" />
<rect x="4" y="73" width="44" height="1" fill="#a80000" />
<rect x="4" y="74" width="44" height="1" fill="#ff8a8a" />
<rect x="171" y="73" width="44" height="1" fill="#a80000" />
<rect x="171" y="74" width="44" height="1" fill="#ff8a8a" />
<rect x="54" y="50" width="111" height="22" fill="#a9b0b8" />
<rect x="55" y="51" width="109" height="20" fill="#ffffff" />
<rect x="55" y="51" width="20" height="20" fill="url(#gSpin)" />
<rect x="75" y="51" width="1" height="20" fill="#a9b0b8" />
<rect x="144" y="51" width="20" height="20" fill="url(#gSpin)" />
<rect x="143" y="51" width="1" height="20" fill="#a9b0b8" />
</g>
<polygon points="61.5,59 67.5,59 64.5,62.5" fill="#000"/>
<polygon points="151,62.5 157,62.5 154,59" fill="#000"/>
<text x="12.5" y="66" font-family="Liberation Sans, sans-serif" font-size="12px" fill="#fff" textLength="25" lengthAdjust="spacingAndGlyphs">SELL</text>
<text x="180" y="66" font-family="Liberation Sans, sans-serif" font-size="12px" fill="#fff" textLength="24" lengthAdjust="spacingAndGlyphs">BUY</text>
<text x="117" y="65" font-family="Liberation Sans, sans-serif" font-size="12px" fill="#000" textLength="22.5" lengthAdjust="spacingAndGlyphs">1.00</text>
<text x="16" y="105" font-family="Liberation Sans, sans-serif" font-size="12px" font-weight="bold" fill="#fff" textLength="34.5" lengthAdjust="spacingAndGlyphs">28018</text>
<text x="126" y="105" font-family="Liberation Sans, sans-serif" font-size="12px" font-weight="bold" fill="#fff" textLength="34" lengthAdjust="spacingAndGlyphs">28031</text>
<text x="54" y="105.5" font-family="Liberation Sans, sans-serif" font-size="35px" fill="#fff" textLength="24.5" lengthAdjust="spacingAndGlyphs">.5</text>
<text x="165.5" y="105.5" font-family="Liberation Sans, sans-serif" font-size="35px" fill="#fff" textLength="24.5" lengthAdjust="spacingAndGlyphs">.5</text>
<g shape-rendering="crispEdges">
<rect x="0" y="0" width="1672" height="26" fill="#f0f0f0" />
<rect x="0" y="26" width="1672" height="1" fill="#a6a6a6" />
<rect x="0" y="27" width="1672" height="1" fill="#6e6e6e" />
<rect x="222" y="1" width="1" height="25" fill="#a0a0a0" />
<rect x="223" y="1" width="1" height="25" fill="#ffffff" />
<rect x="590" y="1" width="1" height="25" fill="#a0a0a0" />
<rect x="591" y="1" width="1" height="25" fill="#ffffff" />
<rect x="896" y="1" width="1" height="25" fill="#a0a0a0" />
<rect x="897" y="1" width="1" height="25" fill="#ffffff" />
<rect x="1157" y="1" width="1" height="25" fill="#a0a0a0" />
<rect x="1158" y="1" width="1" height="25" fill="#ffffff" />
<rect x="317" y="3" width="1" height="21" fill="#a0a0a0" />
<rect x="318" y="3" width="1" height="21" fill="#ffffff" />
<rect x="407" y="3" width="1" height="21" fill="#a0a0a0" />
<rect x="408" y="3" width="1" height="21" fill="#ffffff" />
<rect x="469" y="3" width="1" height="21" fill="#a0a0a0" />
<rect x="470" y="3" width="1" height="21" fill="#ffffff" />
<rect x="657" y="3" width="1" height="21" fill="#a0a0a0" />
<rect x="658" y="3" width="1" height="21" fill="#ffffff" />
<rect x="226" y="4" width="3" height="1" fill="#b4b4b4" />
<rect x="226" y="6" width="3" height="1" fill="#b4b4b4" />
<rect x="226" y="8" width="3" height="1" fill="#b4b4b4" />
<rect x="226" y="10" width="3" height="1" fill="#b4b4b4" />
<rect x="226" y="12" width="3" height="1" fill="#b4b4b4" />
<rect x="226" y="14" width="3" height="1" fill="#b4b4b4" />
<rect x="226" y="16" width="3" height="1" fill="#b4b4b4" />
<rect x="226" y="18" width="3" height="1" fill="#b4b4b4" />
<rect x="226" y="20" width="3" height="1" fill="#b4b4b4" />
<rect x="226" y="22" width="3" height="1" fill="#b4b4b4" />
<rect x="594" y="4" width="3" height="1" fill="#b4b4b4" />
<rect x="594" y="6" width="3" height="1" fill="#b4b4b4" />
<rect x="594" y="8" width="3" height="1" fill="#b4b4b4" />
<rect x="594" y="10" width="3" height="1" fill="#b4b4b4" />
<rect x="594" y="12" width="3" height="1" fill="#b4b4b4" />
<rect x="594" y="14" width="3" height="1" fill="#b4b4b4" />
<rect x="594" y="16" width="3" height="1" fill="#b4b4b4" />
<rect x="594" y="18" width="3" height="1" fill="#b4b4b4" />
<rect x="594" y="20" width="3" height="1" fill="#b4b4b4" />
<rect x="594" y="22" width="3" height="1" fill="#b4b4b4" />
<rect x="900" y="4" width="3" height="1" fill="#b4b4b4" />
<rect x="900" y="6" width="3" height="1" fill="#b4b4b4" />
<rect x="900" y="8" width="3" height="1" fill="#b4b4b4" />
<rect x="900" y="10" width="3" height="1" fill="#b4b4b4" />
<rect x="900" y="12" width="3" height="1" fill="#b4b4b4" />
<rect x="900" y="14" width="3" height="1" fill="#b4b4b4" />
<rect x="900" y="16" width="3" height="1" fill="#b4b4b4" />
<rect x="900" y="18" width="3" height="1" fill="#b4b4b4" />
<rect x="900" y="20" width="3" height="1" fill="#b4b4b4" />
<rect x="900" y="22" width="3" height="1" fill="#b4b4b4" />
<rect x="260" y="2" width="25" height="22" fill="#f9f9f9" />
<rect x="260" y="2" width="25" height="1" fill="#b8b8b8" />
<rect x="260" y="2" width="1" height="22" fill="#b8b8b8" />
<rect x="260" y="23" width="25" height="1" fill="#ffffff" />
<rect x="284" y="2" width="1" height="22" fill="#ffffff" />
<rect x="412" y="2" width="25" height="22" fill="#f9f9f9" />
<rect x="412" y="2" width="25" height="1" fill="#b8b8b8" />
<rect x="412" y="2" width="1" height="22" fill="#b8b8b8" />
<rect x="412" y="23" width="25" height="1" fill="#ffffff" />
<rect x="436" y="2" width="1" height="22" fill="#ffffff" />
<rect x="440" y="2" width="25" height="22" fill="#f9f9f9" />
<rect x="440" y="2" width="25" height="1" fill="#b8b8b8" />
<rect x="440" y="2" width="1" height="22" fill="#b8b8b8" />
<rect x="440" y="23" width="25" height="1" fill="#ffffff" />
<rect x="464" y="2" width="1" height="22" fill="#ffffff" />
<rect x="600" y="2" width="25" height="22" fill="#f9f9f9" />
<rect x="600" y="2" width="25" height="1" fill="#b8b8b8" />
<rect x="600" y="2" width="1" height="22" fill="#b8b8b8" />
<rect x="600" y="23" width="25" height="1" fill="#ffffff" />
<rect x="624" y="2" width="1" height="22" fill="#ffffff" />
<rect x="1074" y="2" width="25" height="22" fill="#f9f9f9" />
<rect x="1074" y="2" width="25" height="1" fill="#b8b8b8" />
<rect x="1074" y="2" width="1" height="22" fill="#b8b8b8" />
<rect x="1074" y="23" width="25" height="1" fill="#ffffff" />
<rect x="1098" y="2" width="1" height="22" fill="#ffffff" />
</g>
<g><path d="M-2 6.500H4.500L7.500 9.500V16.500H-2z" fill="#fff" stroke="#8e8e8e"/><path d="M4.500 6.500V9.500H7.500" fill="none" stroke="#8e8e8e" stroke-width="0.8"/><path d="M-1 10.500h5M-1 13h5" stroke="#a8a8a8"/>
<path d="M3.200 12.800h4.200v3.200h4.200v3.800h-4.200v3.600h-4.200v-3.600h-4.200v-3.800h4.200z" fill="#27cc27" stroke="#0f8c0f" stroke-width="0.8"/></g>
<text x="15" y="17.600" font-family="Liberation Sans, Noto Sans CJK SC, sans-serif" font-size="13px" fill="#000" textLength="36" lengthAdjust="spacingAndGlyphs">新订单</text>
<defs><linearGradient id="gBook" x1="0" y1="0" x2="1" y2="1"><stop offset="0" stop-color="#ffe680"/><stop offset="1" stop-color="#e2a21c"/></linearGradient><linearGradient id="gSrv" x1="0" y1="0" x2="1" y2="1"><stop offset="0" stop-color="#7cc2ff"/><stop offset="1" stop-color="#2578dc"/></linearGradient></defs>
<path d="M63 14.800L63 17L71.200 22.300L78.800 15.500L78.800 13L71.200 19.600z" fill="#a8700f" stroke="#8a5a0a" stroke-width="0.5"/><path d="M69.600 7.100L63 14.800L71.200 19.600L78.800 13z" fill="url(#gBook)" stroke="#b88318" stroke-width="0.7"/>
<rect x="93.500" y="6.300" width="10.500" height="9.500" fill="url(#gSrv)" stroke="#2a6cc4" stroke-width="0.7"/><rect x="97" y="9" width="6" height="2" fill="#f2f8ff"/><rect x="97" y="12.300" width="6" height="1.500" fill="#cfe4fb"/>
<path d="M94.200 21.600a3.300 3.300 0 0 1 -.3-6.600a3.600 3.600 0 0 1 6.500-1.200a3.200 3.200 0 0 1 3.900 2.600a2.600 2.600 0 0 1 -.3 5.200z" fill="#eef2fa" stroke="#6f8fc2" stroke-width="0.9"/>
<path d="M126.600 13.700L126.600 21.600A7.900 7.900 0 0 0 134.200 11.500z" fill="#9ed09e"/>
<g fill="none"><path d="M126.600 6.300A7.400 7.400 0 0 0 126.600 21.100" stroke="#a9c3e8" stroke-width="1.3"/><path d="M126.600 6.300A7.400 7.400 0 0 1 134 13.700" stroke="#8fc08f" stroke-width="1.3"/><circle cx="126.600" cy="13.700" r="4.500" stroke="#4a82d0" stroke-width="1.400"/></g><path d="M127 14V21.500" stroke="#2c9c2c" stroke-width="1.300"/><circle cx="126.600" cy="13.700" r="1.700" fill="#1f5fc4"/>
<path d="M147.300 12.500h12.600l-2.800 7.300l-4.800 1.900l-2.700-2.500z" fill="#f6d040" stroke="#c4981c" stroke-width="0.7"/>
<ellipse cx="154" cy="11.200" rx="7.700" ry="2.600" fill="#5b9ad8" stroke="#2f6fb8" stroke-width="0.7"/><ellipse cx="153.600" cy="9.400" rx="4.300" ry="2.800" fill="#6ba6e0" stroke="#2f6fb8" stroke-width="0.600"/>
<circle cx="158.400" cy="17.800" r="4.100" fill="#e22222" stroke="#a81010" stroke-width="0.600"/><rect x="157.100" y="16.500" width="2.600" height="2.600" fill="#fff"/>
<text x="167.500" y="17.600" font-family="Liberation Sans, Noto Sans CJK SC, sans-serif" font-size="13px" fill="#000" textLength="46.500" lengthAdjust="spacingAndGlyphs">自动交易</text>
<g stroke="#505050" stroke-width="1.2" fill="none"><path d="M241.5 8.5V22 M238 19.5H251.5"/></g>
<path d="M241.5 7 l-2 3 h4z M252.5 19.5 l-3 -2 v4z" fill="#505050"/>
<path d="M247.5 9.5V17.5 M247.5 10h2.5 M245 17h2.5" stroke="#1f9a1f" stroke-width="1.4" fill="none"/>
<g stroke="#505050" stroke-width="1.2" fill="none"><path d="M269.5 8.5V22 M266 19.5H279.5"/></g>
<path d="M269.5 7 l-2 3 h4z M280.5 19.5 l-3 -2 v4z" fill="#505050"/>
<path d="M274.5 6.5V18" stroke="#128a12" stroke-width="1.2"/><rect x="272.5" y="8.5" width="4" height="7" fill="#2fd02f" stroke="#128a12" stroke-width="0.8"/>
<g stroke="#505050" stroke-width="1.2" fill="none"><path d="M297.5 8.5V22 M294 19.5H307.5"/></g>
<path d="M297.5 7 l-2 3 h4z M308.5 19.5 l-3 -2 v4z" fill="#505050"/>
<path d="M297.5 17 C300 10 303 9.5 307 15" stroke="#1f9a1f" stroke-width="1.3" fill="none"/>
<path d="M336.5 16 L341.0 20.5" stroke="#c9a227" stroke-width="2.6" stroke-linecap="round"/>
<circle cx="332.5" cy="12" r="5.3" fill="#dbe9f9" stroke="#3b7fd1" stroke-width="1.3"/>
<path d="M329.5 12h6 M332.5 9v6" stroke="#2d6fc2" stroke-width="1.6"/>
<path d="M364.5 16 L369.0 20.5" stroke="#c9a227" stroke-width="2.6" stroke-linecap="round"/>
<circle cx="360.5" cy="12" r="5.3" fill="#dbe9f9" stroke="#3b7fd1" stroke-width="1.3"/>
<path d="M357.5 12h6" stroke="#2d6fc2" stroke-width="1.6"/>
<g shape-rendering="crispEdges">
<rect x="382" y="6" width="8" height="8" fill="#46a546" />
<rect x="383.5" y="9" width="5" height="3" fill="#eef3fb" />
<rect x="390" y="6" width="8" height="8" fill="#2f64c8" />
<rect x="391.5" y="9" width="5" height="3" fill="#eef3fb" />
<rect x="382" y="14" width="8" height="8" fill="#2f64c8" />
<rect x="383.5" y="17" width="5" height="3" fill="#eef3fb" />
<rect x="390" y="14" width="8" height="8" fill="#46a546" />
<rect x="391.5" y="17" width="5" height="3" fill="#eef3fb" />
</g>
<g stroke="#505050" stroke-width="1.2" fill="none"><path d="M421.5 8.5V22 M418 19.5H431.5"/></g>
<path d="M421.5 7 l-2 3 h4z M432.5 19.5 l-3 -2 v4z" fill="#505050"/>
<path d="M425 10.3 l4 3.2 l-4 3.200z" fill="#3fc43f" stroke="#128a12" stroke-width="0.7"/>
<g stroke="#505050" stroke-width="1.2" fill="none"><path d="M449.5 8.5V22 M446 19.5H459.5"/></g>
<path d="M449.5 7 l-2 3 h4z M460.5 19.5 l-3 -2 v4z" fill="#505050"/>
<path d="M454.5 7.500V18" stroke="#2b6cc4" stroke-width="1.3"/><path d="M460 13.5h-4.500 M458 11.5l-2.300 2l2.300 2" stroke="#d63a1a" stroke-width="1.1" fill="none"/>
<path d="M479.5 6.5h7l3.5 3.5v9h-10.5z" fill="#fff" stroke="#8a8a8a"/><path d="M483 10v6" stroke="#777"/>
<path d="M487.5 12.5h4v3.5h3.5v4h-3.5v3.5h-4v-3.5h-3.5v-4h3.5z" fill="#2fc52f" stroke="#128a12" stroke-width="0.8"/>
<path d="M501 13h5.5l-2.750 3z" fill="#000"/>
<path d="M540 13h5.5l-2.750 3z" fill="#000"/>
<path d="M579 13h5.5l-2.750 3z" fill="#000"/>
<path d="M885 13h5.5l-2.750 3z" fill="#000"/>
<circle cx="525" cy="13.800" r="8" fill="#1a56b8"/><circle cx="525" cy="13.800" r="7.300" fill="#3d86e6"/><circle cx="525" cy="13.800" r="5.300" fill="#f2f6fc" stroke="#1f5cbc" stroke-width="0.500"/><path d="M525 10V14H528" stroke="#444" stroke-width="1.100" fill="none"/>
<rect x="556.5" y="7.5" width="15" height="13" fill="#fff" stroke="#2f6fd0" stroke-width="1"/><rect x="557" y="8" width="14" height="2.5" fill="#6ea3e8"/>
<path d="M558.5 13.5l3-1l2.5 1l3-1.5l2 .5" stroke="#c02010" stroke-width="1.1" fill="none"/><path d="M558.5 18l3-1.5l2.5 1l3-1.5l2 1" stroke="#1f9a1f" stroke-width="1.1" fill="none"/>
<path d="M608 7 L608 19 L610.8 16.5 L613 21.3 L615 20.4 L612.8 15.7 L616.5 15.5z" fill="#444"/>
<path d="M640.5 7V22 M633 14.5H648" stroke="#444" stroke-width="1" shape-rendering="crispEdges"/>
<path d="M674.5 8V21 M697 14.5H709" stroke="#444" stroke-width="1" shape-rendering="crispEdges"/>
<path d="M724.5 20.8L737 9" stroke="#444" stroke-width="1.1"/>
<path d="M750.400 15.700L762.900 7.600 M751.700 19.700L765.200 11.200" stroke="#3c3c3c" stroke-width="1.100" fill="none"/><path d="M751 17.700L764 9.400" stroke="#555" stroke-width="0.800" fill="none"/><path d="M753.400 13.500L754.900 19.700 M757.400 10.300L759.400 17 M762.200 6L763.900 13.900" stroke="#3c3c3c" stroke-width="1.300" fill="none"/>
<text x="762" y="22.600" font-family="Liberation Sans, sans-serif" font-size="6.5px" font-weight="bold" fill="#333">E</text>
<path d="M780 7.500h14 M780 10.500h14 M780 14.500h14 M780 18.500h9" stroke="#444" stroke-width="1" stroke-dasharray="1 1" shape-rendering="crispEdges"/>
<text x="789.800" y="22.600" font-family="Liberation Sans, sans-serif" font-size="6.5px" font-weight="bold" fill="#333">F</text>
<text x="810.600" y="19" font-family="Liberation Sans, sans-serif" font-size="12px" fill="#555" stroke="#555" stroke-width="0.4" textLength="8" lengthAdjust="spacingAndGlyphs">A</text>
<rect x="836.500" y="7.500" width="12" height="13" fill="none" stroke="#555" stroke-width="1" stroke-dasharray="1 1" shape-rendering="crispEdges"/>
<text x="838.200" y="18.600" font-family="Liberation Sans, sans-serif" font-size="11.3px" fill="#555" stroke="#555" stroke-width="0.5" textLength="9" lengthAdjust="spacingAndGlyphs">T</text>
<path d="M864.300 10.300l3.100-2.300l3.100 2.300l-3.100 2z M871 18.100l3.600-2.700l3.600 2.700l-3.600 2.700z" fill="#444"/><path d="M866 15.400l2.300 1.800l4.500-4.900" stroke="#444" stroke-width="1.300" fill="none"/>
<g font-family="Liberation Sans, sans-serif" font-size="9.3px" fill="#3a3a3a">
<text x="911.7" y="17.7" textLength="12.5" lengthAdjust="spacingAndGlyphs">M1</text>
<text x="939.7" y="17.7" textLength="12.3" lengthAdjust="spacingAndGlyphs">M5</text>
<text x="965.7" y="17.7" textLength="17.3" lengthAdjust="spacingAndGlyphs">M15</text>
<text x="993.5" y="17.7" textLength="17.8" lengthAdjust="spacingAndGlyphs">M30</text>
<text x="1024.5" y="17.7" textLength="11.8" lengthAdjust="spacingAndGlyphs">H1</text>
<text x="1051.7" y="17.7" textLength="12.3" lengthAdjust="spacingAndGlyphs">H4</text>
<text x="1080.6" y="17.7" textLength="11.4" lengthAdjust="spacingAndGlyphs">D1</text>
<text x="1108" y="17.7" textLength="14" lengthAdjust="spacingAndGlyphs">W1</text>
<text x="1134.6" y="17.7" textLength="14.7" lengthAdjust="spacingAndGlyphs">MN</text>
</g>
<path d="M1624.8 14.5 L1619.8 19" stroke="#2a5bd0" stroke-width="2.4" stroke-linecap="round"/><circle cx="1627.7" cy="11.6" r="3.6" fill="#f4f6fb" stroke="#2a5bd0" stroke-width="1.4"/>
<g stroke="#9a9a9a" stroke-width="0.9"><path d="M1660 6.500c3.6 0 6.3 2.2 6.3 5c0 2.3-1.8 4-4 4.700l.8 2.300l-3-2c-3.600 0-6.400-2.200-6.400-5c0-2.800 2.800-5 6.300-5z" fill="#eceef4"/><path d="M1651 11.500c2.700 0 4.800 1.800 4.800 4c0 2.200-2.100 4-4.800 4l-1.800 1.800l-.2-2.100c-1.700-.7-2.800-2.100-2.800-3.700c0-2.200 2.100-4 4.800-4z" fill="#f2f3f7"/></g>
</svg>
</body></html>
